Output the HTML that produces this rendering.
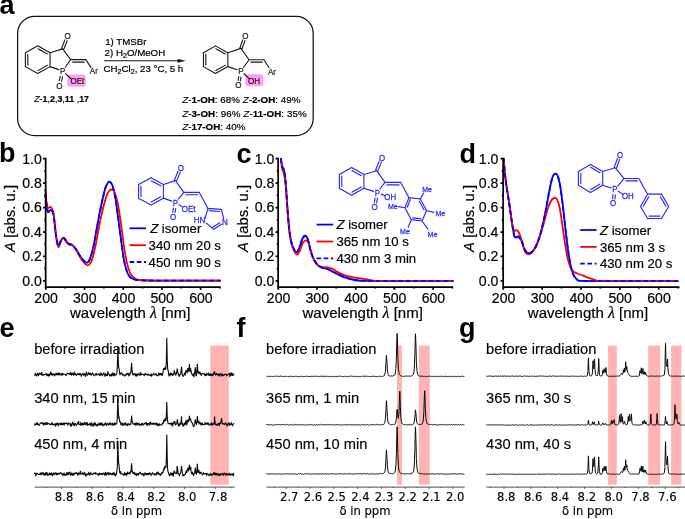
<!DOCTYPE html>
<html><head><meta charset="utf-8"><title>Figure</title><style>html,body{margin:0;padding:0;background:#fff}svg{display:block}</style></head><body>
<svg width="685" height="519" viewBox="0 0 685 519" font-family='"Liberation Sans", sans-serif' fill="#000">
<rect width="685" height="519" fill="#fff"/>
<style>text{stroke-linejoin:round}</style>
<text x="-0.6" y="14.4" font-size="27" font-weight="bold">a</text>
<rect x="17.6" y="16.4" width="295.6" height="119.2" rx="17" ry="17" fill="none" stroke="#111" stroke-width="1.25"/>
<g transform="translate(18,25) scale(0.15411)" fill="#1a1a1a" stroke="#1a1a1a" stroke-width="1.58" font-size="52" text-anchor="middle"><rect x="320" y="322" width="120" height="78" rx="19" fill="#ff9df2" stroke="none"/><path d="M48 180L128 135M128 135L208 180M208 180L208 270M208 270L128 315M128 315L48 270M48 270L48 180M129.95 154L190.75 188.2M190.75 261.8L129.95 296M63.6 259.2L63.6 190.8M208 180L290 155M290 155L342 225M342 225L306.89 274.28M208 270L265.2 289.53M297.28 157.81L318.8 101.98M282.72 152.19L304.24 96.36M342 225L440 225M354.74 240.6L430.2 240.6M440 225L473.36 275.04M273.78 333.08L267.04 361.87M288.97 336.64L282.23 365.42M308.97 316.08L344.99 350.43" fill="none" stroke="#1a1a1a" stroke-width="7.2" stroke-linecap="round" stroke-linejoin="round"/><text x="322" y="93.06" textLength="40.46" lengthAdjust="spacingAndGlyphs" font-size="58.76">O</text><text x="290" y="319.06" textLength="34.68" lengthAdjust="spacingAndGlyphs" font-size="58.76">P</text><text x="268" y="413.06" textLength="40.46" lengthAdjust="spacingAndGlyphs" font-size="58.76">O</text><text x="385" y="383.06" textLength="89.6" lengthAdjust="spacingAndGlyphs" font-size="58.76">OEt</text><text x="492" y="321.06" textLength="52" lengthAdjust="spacingAndGlyphs" font-size="58.76">Ar</text></g>
<g transform="translate(195,25) scale(0.14599)" fill="#1a1a1a" stroke="#1a1a1a" stroke-width="1.67" font-size="55" text-anchor="middle"><rect x="345" y="338" width="123" height="82" rx="21" fill="#ff9df2" stroke="none"/><path d="M58 190L140 143M140 143L225 190M225 190L225 285M225 285L140 332M140 332L58 285M58 285L58 190M142.43 162.7L207.03 198.42M207.03 276.58L142.43 312.3M74.07 273.6L74.07 201.4M225 190L315 160M315 160L370 238M370 238L332.9 289.94M225 285L288.7 306.23M322.58 162.67L342.32 106.72M307.42 157.33L327.17 101.37M370 238L472 238M383.26 254.07L461.8 254.07M472 238L507.63 293.12M299.8 352.9L294.72 380.25M315.59 355.83L310.52 383.18M335.17 334.02L371 367.82" fill="none" stroke="#1a1a1a" stroke-width="7.6" stroke-linecap="round" stroke-linejoin="round"/><text x="345" y="97.28" textLength="42.79" lengthAdjust="spacingAndGlyphs" font-size="62.15">O</text><text x="315" y="337.27" textLength="36.69" lengthAdjust="spacingAndGlyphs" font-size="62.15">P</text><text x="297" y="434.27" textLength="42.79" lengthAdjust="spacingAndGlyphs" font-size="62.15">O</text><text x="405" y="402.27" textLength="82.5" lengthAdjust="spacingAndGlyphs" font-size="62.15">OH</text><text x="527" y="342.27" textLength="55" lengthAdjust="spacingAndGlyphs" font-size="62.15">Ar</text></g>
<g font-size="9.7" stroke="#000" stroke-width="0.22">
<text x="105.2" y="45.2">1) TMSBr</text>
<text x="104.6" y="55.7">2) H<tspan font-size="7.2" dy="2">2</tspan><tspan dy="-2">O/MeOH</tspan></text>
<text x="103.5" y="72.2">CH<tspan font-size="7.2" dy="2">2</tspan><tspan dy="-2">Cl</tspan><tspan font-size="7.2" dy="2">2</tspan><tspan dy="-2">, 23 °C, 5 h</tspan></text>
</g>
<path d="M104.1 60.8H180" stroke="#111" stroke-width="1.05" fill="none"/>
<path d="M185.8 60.8L177.6 58.9L177.6 62.7Z" fill="#111"/>
<g font-size="8.9" stroke="#000" stroke-width="0.2">
<text x="34.2" y="102.1"><tspan font-style="italic">Z</tspan>-<tspan font-weight="bold">1</tspan>,<tspan font-weight="bold">2</tspan>,<tspan font-weight="bold">3</tspan>,<tspan font-weight="bold">11</tspan> ,<tspan font-weight="bold">17</tspan></text>
</g>
<g font-size="9.8" stroke="#000" stroke-width="0.2">
<text x="182.2" y="102.7"><tspan font-style="italic">Z</tspan>-<tspan font-weight="bold">1-OH</tspan>: 68% <tspan font-style="italic">Z</tspan>-<tspan font-weight="bold">2-OH</tspan>: 49%</text>
<text x="182.2" y="117.4" letter-spacing="0.06"><tspan font-style="italic">Z</tspan>-<tspan font-weight="bold">3-OH</tspan>: 96% <tspan font-style="italic">Z</tspan>-<tspan font-weight="bold">11-OH</tspan>: 35%</text>
<text x="182.2" y="130.3"><tspan font-style="italic">Z</tspan>-<tspan font-weight="bold">17-OH</tspan>: 40%</text>
</g>
<text x="-1" y="161.7" font-size="27" font-weight="bold">b</text>
<path d="M45.39 194.47C45.62 196.5 46.29 203.68 46.74 206.6C47.19 209.52 47.41 211.46 48.09 211.99C48.76 212.53 49.88 209.39 50.78 209.84C51.68 210.29 52.58 210.29 53.48 214.69C54.38 219.09 55.36 231.09 56.17 236.25C56.98 241.42 57.52 245.01 58.33 245.69C59.14 246.36 60.13 241.6 61.02 240.3C61.92 238.99 62.73 237.56 63.72 237.87C64.71 238.19 65.97 241.11 66.95 242.18C67.94 243.26 68.75 243.89 69.65 244.34C70.55 244.79 71.22 243.98 72.35 244.88C73.47 245.78 75.04 247.8 76.39 249.73C77.74 251.66 79.08 254.54 80.43 256.47C81.78 258.4 83.35 260.29 84.47 261.32C85.6 262.35 86.27 263.03 87.17 262.67C88.07 262.31 88.74 262.22 89.87 259.16C90.99 256.11 92.34 251.75 93.91 244.34C95.48 236.93 97.5 223.67 99.3 214.69C101.1 205.71 103.34 195.6 104.69 190.43C106.04 185.27 106.58 185.13 107.39 183.69C108.19 182.26 108.73 181.58 109.54 181.81C110.35 182.03 111.25 182.26 112.24 185.04C113.23 187.83 114.26 191.33 115.47 198.52C116.68 205.71 118.17 218.28 119.51 228.17C120.86 238.05 122.35 250.63 123.56 257.82C124.77 265 125.67 268.06 126.79 271.29C127.92 274.53 129.04 275.88 130.3 277.22C131.55 278.57 132.77 278.9 134.34 279.38C135.91 279.86 136.59 279.89 139.73 280.08C142.88 280.27 139.73 280.46 153.21 280.54C166.68 280.62 209.36 280.54 220.59 280.54" fill="none" stroke="#0000ff" stroke-width="1.8" stroke-linejoin="round"/>
<path d="M45.39 189.08C45.62 191.55 46.29 200.76 46.74 203.91C47.19 207.05 47.41 207.41 48.09 207.95C48.76 208.49 49.88 206.24 50.78 207.14C51.68 208.04 52.58 208.27 53.48 213.34C54.38 218.42 55.36 231.99 56.17 237.6C56.98 243.22 57.52 246.45 58.33 247.04C59.14 247.62 60.13 242.54 61.02 241.11C61.92 239.67 62.73 238.1 63.72 238.41C64.71 238.72 65.97 241.96 66.95 242.99C67.94 244.03 68.75 244.25 69.65 244.61C70.55 244.97 71.22 244.16 72.35 245.15C73.47 246.14 75.04 248.43 76.39 250.54C77.74 252.65 79.08 255.71 80.43 257.82C81.78 259.93 83.26 261.95 84.47 263.21C85.69 264.47 86.59 265.59 87.71 265.36C88.83 265.14 89.96 264.91 91.21 261.86C92.47 258.81 93.68 254.22 95.26 247.04C96.83 239.85 98.85 227.04 100.65 218.73C102.44 210.42 104.56 201.89 106.04 197.17C107.52 192.45 108.6 191.69 109.54 190.43C110.49 189.17 110.89 189.4 111.7 189.62C112.51 189.85 113.41 189.62 114.39 191.78C115.38 193.94 116.55 197.39 117.63 202.56C118.71 207.73 119.65 214.47 120.86 222.78C122.08 231.09 123.65 244.79 124.91 252.43C126.16 260.06 127.29 264.78 128.41 268.6C129.53 272.42 130.43 273.63 131.64 275.34C132.86 277.04 134.34 278.05 135.69 278.84C137.04 279.63 136.81 279.8 139.73 280.08C142.65 280.36 139.73 280.46 153.21 280.54C166.68 280.62 209.36 280.54 220.59 280.54" fill="none" stroke="#ff0000" stroke-width="1.8" stroke-linejoin="round"/>
<path d="M45.39 194.47C45.62 196.5 46.29 203.68 46.74 206.6C47.19 209.52 47.41 211.46 48.09 211.99C48.76 212.53 49.88 209.39 50.78 209.84C51.68 210.29 52.58 210.29 53.48 214.69C54.38 219.09 55.36 231.09 56.17 236.25C56.98 241.42 57.52 245.01 58.33 245.69C59.14 246.36 60.13 241.6 61.02 240.3C61.92 238.99 62.73 237.56 63.72 237.87C64.71 238.19 65.97 241.11 66.95 242.18C67.94 243.26 68.75 243.89 69.65 244.34C70.55 244.79 71.22 243.98 72.35 244.88C73.47 245.78 75.04 247.8 76.39 249.73C77.74 251.66 79.08 254.54 80.43 256.47C81.78 258.4 83.35 260.29 84.47 261.32C85.6 262.35 86.27 263.03 87.17 262.67C88.07 262.31 88.74 262.22 89.87 259.16C90.99 256.11 92.34 251.75 93.91 244.34C95.48 236.93 97.5 223.67 99.3 214.69C101.1 205.71 103.34 195.6 104.69 190.43C106.04 185.27 106.58 185.13 107.39 183.69C108.19 182.26 108.73 181.58 109.54 181.81C110.35 182.03 111.25 182.26 112.24 185.04C113.23 187.83 114.26 191.33 115.47 198.52C116.68 205.71 118.17 218.28 119.51 228.17C120.86 238.05 122.35 250.63 123.56 257.82C124.77 265 125.67 268.06 126.79 271.29C127.92 274.53 129.04 275.88 130.3 277.22C131.55 278.57 132.77 278.9 134.34 279.38C135.91 279.86 136.59 279.89 139.73 280.08C142.88 280.27 139.73 280.46 153.21 280.54C166.68 280.62 209.36 280.54 220.59 280.54" fill="none" stroke="#0000ff" stroke-width="1.8" stroke-dasharray="4.7 2.8" stroke-linejoin="round"/>
<path d="M45.65 157.85V287.2H220.7M45.65 280.9h-2.6M45.65 268.68h-1.4M45.65 256.46h-2.6M45.65 244.24h-1.4M45.65 232.02h-2.6M45.65 219.8h-1.4M45.65 207.58h-2.6M45.65 195.36h-1.4M45.65 183.14h-2.6M45.65 170.92h-1.4M45.65 158.7h-2.6M45.8 287.2v2.6M65.15 287.2v1.4M84.5 287.2v2.6M103.85 287.2v1.4M123.2 287.2v2.6M142.55 287.2v1.4M161.9 287.2v2.6M181.25 287.2v1.4M200.6 287.2v2.6M219.95 287.2v1.4" fill="none" stroke="#000" stroke-width="1.75"/>
<g font-size="14.1" stroke="#000" stroke-width="0.2">
<text x="41.75" y="285.8" text-anchor="end">0.0</text>
<text x="41.75" y="261.36" text-anchor="end">0.2</text>
<text x="41.75" y="236.92" text-anchor="end">0.4</text>
<text x="41.75" y="212.48" text-anchor="end">0.6</text>
<text x="41.75" y="188.04" text-anchor="end">0.8</text>
<text x="41.75" y="163.6" text-anchor="end">1.0</text>
<text x="46.1" y="302.8" text-anchor="middle">200</text>
<text x="84.8" y="302.8" text-anchor="middle">300</text>
<text x="123.5" y="302.8" text-anchor="middle">400</text>
<text x="162.2" y="302.8" text-anchor="middle">500</text>
<text x="200.9" y="302.8" text-anchor="middle">600</text>
</g>
<text x="130.2" y="317.6" font-size="15" stroke="#000" stroke-width="0.2" text-anchor="middle">wavelength <tspan font-style="italic" font-family="'Liberation Serif', serif" font-size="16">λ</tspan> [nm]</text>
<text transform="translate(14.65,218.4) rotate(-90)" font-size="14.9" stroke="#000" stroke-width="0.2" text-anchor="middle"><tspan font-style="italic">A</tspan> [abs. u.]</text>
<path d="M129.6 228.3H146" stroke="#0000ff" stroke-width="1.8"/>
<text x="148.6" y="232.9" font-size="13.15" stroke="#000" stroke-width="0.2"><tspan font-style="italic" dx="1.6">Z</tspan> isomer</text>
<path d="M129.6 245.2H146" stroke="#ff0000" stroke-width="1.8"/>
<text x="148.6" y="249.8" font-size="13.15" stroke="#000" stroke-width="0.2">340 nm 20 s</text>
<path d="M129.6 262H146" stroke="#0000ff" stroke-width="1.8" stroke-dasharray="4.6 2.6"/>
<text x="148.6" y="266.6" font-size="13.15" stroke="#000" stroke-width="0.2">450 nm 90 s</text>
<text x="236.5" y="163" font-size="27" font-weight="bold">c</text>
<path d="M280.79 158.09C281.01 159.44 281.6 164.16 282.14 166.18C282.68 168.2 283.44 167.53 284.02 170.23C284.61 172.92 285.06 175.85 285.64 182.36C286.23 188.88 286.9 201.24 287.53 209.33C288.16 217.42 288.74 225.29 289.42 230.91C290.09 236.52 290.77 239.9 291.57 243.04C292.38 246.19 293.46 248.21 294.27 249.78C295.08 251.36 295.62 252.71 296.43 252.48C297.24 252.26 298.14 250.68 299.13 248.44C300.12 246.19 301.37 241.11 302.36 239C303.35 236.88 304.16 235.76 305.06 235.76C305.96 235.76 306.86 236.66 307.76 239C308.66 241.33 309.55 246.64 310.45 249.78C311.35 252.93 312.03 255.4 313.15 257.87C314.27 260.35 315.85 263.04 317.2 264.62C318.54 266.19 319.67 266.64 321.24 267.31C322.81 267.99 324.84 267.99 326.63 268.66C328.43 269.34 330.23 270.46 332.03 271.36C333.83 272.26 335.17 273.02 337.42 274.06C339.67 275.09 342.37 276.53 345.51 277.56C348.66 278.6 351.81 279.69 356.3 280.26C360.79 280.83 366.86 280.83 372.48 280.96C378.1 281.09 376.53 281.05 390.01 281.07C403.5 281.09 442.82 281.07 453.39 281.07" fill="none" stroke="#0000ff" stroke-width="1.8" stroke-linejoin="round"/>
<path d="M280.79 158.09C281.01 159.89 281.6 166.18 282.14 168.88C282.68 171.57 283.44 171.57 284.02 174.27C284.61 176.97 285.06 178.99 285.64 185.06C286.23 191.13 286.9 202.81 287.53 210.68C288.16 218.55 288.74 226.64 289.42 232.25C290.09 237.87 290.77 241.24 291.57 244.39C292.38 247.54 293.37 249.42 294.27 251.13C295.17 252.84 296.07 254.64 296.97 254.64C297.87 254.64 298.68 253.07 299.67 251.13C300.65 249.2 301.82 244.84 302.9 243.04C303.98 241.24 305.15 240.21 306.14 240.35C307.13 240.48 308.03 241.83 308.83 243.85C309.64 245.87 310.18 249.92 310.99 252.48C311.8 255.04 312.66 257.2 313.69 259.22C314.72 261.25 315.94 263.36 317.2 264.62C318.45 265.88 319.67 266.33 321.24 266.77C322.81 267.22 324.84 267 326.63 267.31C328.43 267.63 330.23 267.9 332.03 268.66C333.83 269.43 335.17 270.73 337.42 271.9C339.67 273.07 342.37 274.69 345.51 275.67C348.66 276.66 353.15 277.29 356.3 277.83C359.45 278.37 361.69 278.48 364.39 278.91C367.09 279.34 369.78 280.05 372.48 280.39C375.18 280.74 367.09 280.85 380.57 280.96C394.06 281.07 441.25 281.05 453.39 281.07" fill="none" stroke="#ff0000" stroke-width="1.8" stroke-linejoin="round"/>
<path d="M280.79 158.09C281.01 159.44 281.6 164.16 282.14 166.18C282.68 168.2 283.44 167.53 284.02 170.23C284.61 172.92 285.06 175.85 285.64 182.36C286.23 188.88 286.9 201.24 287.53 209.33C288.16 217.42 288.74 225.29 289.42 230.91C290.09 236.52 290.77 239.9 291.57 243.04C292.38 246.19 293.46 248.21 294.27 249.78C295.08 251.36 295.62 252.71 296.43 252.48C297.24 252.26 298.14 250.68 299.13 248.44C300.12 246.19 301.37 241.11 302.36 239C303.35 236.88 304.16 235.76 305.06 235.76C305.96 235.76 306.86 236.66 307.76 239C308.66 241.33 309.55 246.64 310.45 249.78C311.35 252.93 312.03 255.4 313.15 257.87C314.27 260.35 315.85 263.04 317.2 264.62C318.54 266.19 319.67 266.64 321.24 267.31C322.81 267.99 324.84 267.99 326.63 268.66C328.43 269.34 330.23 270.46 332.03 271.36C333.83 272.26 335.17 273.02 337.42 274.06C339.67 275.09 342.37 276.53 345.51 277.56C348.66 278.6 351.81 279.69 356.3 280.26C360.79 280.83 366.86 280.83 372.48 280.96C378.1 281.09 376.53 281.05 390.01 281.07C403.5 281.09 442.82 281.07 453.39 281.07" fill="none" stroke="#0000ff" stroke-width="1.8" stroke-dasharray="4.7 2.8" stroke-linejoin="round"/>
<path d="M278.15 157.85V287.2H453M278.15 280.9h-2.6M278.15 268.68h-1.4M278.15 256.46h-2.6M278.15 244.24h-1.4M278.15 232.02h-2.6M278.15 219.8h-1.4M278.15 207.58h-2.6M278.15 195.36h-1.4M278.15 183.14h-2.6M278.15 170.92h-1.4M278.15 158.7h-2.6M278.3 287.2v2.6M297.65 287.2v1.4M317 287.2v2.6M336.35 287.2v1.4M355.7 287.2v2.6M375.05 287.2v1.4M394.4 287.2v2.6M413.75 287.2v1.4M433.1 287.2v2.6M452.45 287.2v1.4" fill="none" stroke="#000" stroke-width="1.75"/>
<g font-size="14.1" stroke="#000" stroke-width="0.2">
<text x="274.25" y="285.8" text-anchor="end">0.0</text>
<text x="274.25" y="261.36" text-anchor="end">0.2</text>
<text x="274.25" y="236.92" text-anchor="end">0.4</text>
<text x="274.25" y="212.48" text-anchor="end">0.6</text>
<text x="274.25" y="188.04" text-anchor="end">0.8</text>
<text x="274.25" y="163.6" text-anchor="end">1.0</text>
<text x="278.6" y="302.8" text-anchor="middle">200</text>
<text x="317.3" y="302.8" text-anchor="middle">300</text>
<text x="356" y="302.8" text-anchor="middle">400</text>
<text x="394.7" y="302.8" text-anchor="middle">500</text>
<text x="433.4" y="302.8" text-anchor="middle">600</text>
</g>
<text x="362.7" y="317.6" font-size="15" stroke="#000" stroke-width="0.2" text-anchor="middle">wavelength <tspan font-style="italic" font-family="'Liberation Serif', serif" font-size="16">λ</tspan> [nm]</text>
<text transform="translate(248.45,218.4) rotate(-90)" font-size="14.9" stroke="#000" stroke-width="0.2" text-anchor="middle"><tspan font-style="italic">A</tspan> [abs. u.]</text>
<path d="M316.5 224.6H333.2" stroke="#0000ff" stroke-width="1.8"/>
<text x="336.5" y="229.2" font-size="13.15" stroke="#000" stroke-width="0.2"><tspan font-style="italic">Z</tspan> isomer</text>
<path d="M316.5 241.5H333.2" stroke="#ff0000" stroke-width="1.8"/>
<text x="336.5" y="246.1" font-size="13.15" stroke="#000" stroke-width="0.2">365 nm 10 s</text>
<path d="M316.5 258.3H333.2" stroke="#0000ff" stroke-width="1.8" stroke-dasharray="4.6 2.6"/>
<text x="336.5" y="262.9" font-size="13.15" stroke="#000" stroke-width="0.2">430 nm 3 min</text>
<text x="459.4" y="163.2" font-size="27" font-weight="bold">d</text>
<path d="M503.63 158.09C503.81 160.34 504.26 167.08 504.71 171.57C505.16 176.07 505.7 180.56 506.33 185.06C506.96 189.55 507.77 193.82 508.48 198.54C509.2 203.26 509.92 208.43 510.64 213.38C511.36 218.32 512.17 224.39 512.8 228.21C513.43 232.03 513.88 234.73 514.42 236.3C514.96 237.87 515.41 237.65 516.04 237.65C516.66 237.65 517.47 236.08 518.19 236.3C518.91 236.52 519.72 238.1 520.35 239C520.98 239.9 521.34 240.12 521.97 241.69C522.6 243.27 523.32 246.64 524.13 248.44C524.94 250.23 525.92 251.72 526.82 252.48C527.72 253.25 528.53 253.25 529.52 253.02C530.51 252.8 531.54 252.57 532.76 251.13C533.97 249.69 535.45 247.54 536.8 244.39C538.15 241.24 539.5 237.2 540.85 232.25C542.2 227.31 543.54 221.24 544.89 214.72C546.24 208.21 547.72 199.22 548.94 193.15C550.15 187.08 551.18 181.55 552.17 178.32C553.16 175.08 553.97 174.18 554.87 173.73C555.77 173.28 556.67 173.51 557.57 175.62C558.47 177.73 559.37 181.24 560.26 186.41C561.16 191.58 562.06 199.22 562.96 206.63C563.86 214.05 564.76 223.27 565.66 230.91C566.56 238.55 567.46 246.41 568.35 252.48C569.25 258.55 570.15 263.49 571.05 267.31C571.95 271.13 572.71 273.34 573.75 275.4C574.78 277.47 575.77 278.79 577.25 279.72C578.74 280.65 576.36 280.74 582.65 280.96C588.94 281.18 599.05 281.05 615.01 281.07C630.97 281.09 667.82 281.07 678.39 281.07" fill="none" stroke="#0000ff" stroke-width="1.8" stroke-linejoin="round"/>
<path d="M503.63 158.09C503.81 160.34 504.26 167.08 504.71 171.57C505.16 176.07 505.7 180.56 506.33 185.06C506.96 189.55 507.77 193.82 508.48 198.54C509.2 203.26 509.92 208.66 510.64 213.38C511.36 218.1 512.17 223.94 512.8 226.86C513.43 229.78 513.79 230.37 514.42 230.91C515.05 231.45 515.86 229.87 516.57 230.1C517.29 230.32 518.01 231 518.73 232.25C519.45 233.51 520.17 235.4 520.89 237.65C521.61 239.9 522.33 243.36 523.05 245.74C523.77 248.12 524.4 250.5 525.2 251.94C526.01 253.38 526.87 254.19 527.9 254.37C528.94 254.55 530.15 254.14 531.41 253.02C532.67 251.9 534.1 250.19 535.45 247.63C536.8 245.06 538.15 241.56 539.5 237.65C540.85 233.74 542.2 228.88 543.54 224.16C544.89 219.44 546.33 213.24 547.59 209.33C548.85 205.42 549.97 202.59 551.09 200.7C552.22 198.81 553.34 198.23 554.33 198C555.32 197.78 556.13 197.69 557.03 199.35C557.93 201.02 558.83 203.62 559.72 207.98C560.62 212.34 561.52 219.44 562.42 225.51C563.32 231.58 564.22 238.77 565.12 244.39C566.02 250.01 566.92 255.4 567.82 259.22C568.71 263.04 569.61 265.29 570.51 267.31C571.41 269.34 572.09 270.33 573.21 271.36C574.33 272.39 575.68 272.84 577.25 273.52C578.83 274.19 580.63 274.64 582.65 275.4C584.67 276.17 587.14 277.27 589.39 278.1C591.64 278.93 593.89 279.92 596.13 280.39C598.38 280.87 589.17 280.85 602.87 280.96C616.58 281.07 665.8 281.05 678.39 281.07" fill="none" stroke="#ff0000" stroke-width="1.8" stroke-linejoin="round"/>
<path d="M503.63 158.09C503.81 160.34 504.26 167.08 504.71 171.57C505.16 176.07 505.7 180.56 506.33 185.06C506.96 189.55 507.77 193.82 508.48 198.54C509.2 203.26 509.92 208.43 510.64 213.38C511.36 218.32 512.17 224.39 512.8 228.21C513.43 232.03 513.88 234.73 514.42 236.3C514.96 237.87 515.41 237.65 516.04 237.65C516.66 237.65 517.47 236.08 518.19 236.3C518.91 236.52 519.72 238.1 520.35 239C520.98 239.9 521.34 240.12 521.97 241.69C522.6 243.27 523.32 246.64 524.13 248.44C524.94 250.23 525.92 251.72 526.82 252.48C527.72 253.25 528.53 253.25 529.52 253.02C530.51 252.8 531.54 252.57 532.76 251.13C533.97 249.69 535.45 247.54 536.8 244.39C538.15 241.24 539.5 237.2 540.85 232.25C542.2 227.31 543.54 221.24 544.89 214.72C546.24 208.21 547.72 199.22 548.94 193.15C550.15 187.08 551.18 181.55 552.17 178.32C553.16 175.08 553.97 174.18 554.87 173.73C555.77 173.28 556.67 173.51 557.57 175.62C558.47 177.73 559.37 181.24 560.26 186.41C561.16 191.58 562.06 199.22 562.96 206.63C563.86 214.05 564.76 223.27 565.66 230.91C566.56 238.55 567.46 246.41 568.35 252.48C569.25 258.55 570.15 263.49 571.05 267.31C571.95 271.13 572.71 273.34 573.75 275.4C574.78 277.47 575.77 278.79 577.25 279.72C578.74 280.65 576.36 280.74 582.65 280.96C588.94 281.18 599.05 281.05 615.01 281.07C630.97 281.09 667.82 281.07 678.39 281.07" fill="none" stroke="#0000ff" stroke-width="1.8" stroke-dasharray="4.7 2.8" stroke-linejoin="round"/>
<path d="M503.15 157.85V287.2H679.5M503.15 280.9h-2.6M503.15 268.68h-1.4M503.15 256.46h-2.6M503.15 244.24h-1.4M503.15 232.02h-2.6M503.15 219.8h-1.4M503.15 207.58h-2.6M503.15 195.36h-1.4M503.15 183.14h-2.6M503.15 170.92h-1.4M503.15 158.7h-2.6M503.3 287.2v2.6M522.73 287.2v1.4M542.15 287.2v2.6M561.58 287.2v1.4M581 287.2v2.6M600.42 287.2v1.4M619.85 287.2v2.6M639.27 287.2v1.4M658.7 287.2v2.6M678.12 287.2v1.4" fill="none" stroke="#000" stroke-width="1.75"/>
<g font-size="14.1" stroke="#000" stroke-width="0.2">
<text x="498.45" y="285.8" text-anchor="end">0.0</text>
<text x="498.45" y="261.36" text-anchor="end">0.2</text>
<text x="498.45" y="236.92" text-anchor="end">0.4</text>
<text x="498.45" y="212.48" text-anchor="end">0.6</text>
<text x="498.45" y="188.04" text-anchor="end">0.8</text>
<text x="498.45" y="163.6" text-anchor="end">1.0</text>
<text x="503.6" y="302.8" text-anchor="middle">200</text>
<text x="542.45" y="302.8" text-anchor="middle">300</text>
<text x="581.3" y="302.8" text-anchor="middle">400</text>
<text x="620.15" y="302.8" text-anchor="middle">500</text>
<text x="659" y="302.8" text-anchor="middle">600</text>
</g>
<text x="588.03" y="317.6" font-size="15" stroke="#000" stroke-width="0.2" text-anchor="middle">wavelength <tspan font-style="italic" font-family="'Liberation Serif', serif" font-size="16">λ</tspan> [nm]</text>
<text transform="translate(473.55,218.4) rotate(-90)" font-size="14.9" stroke="#000" stroke-width="0.2" text-anchor="middle"><tspan font-style="italic">A</tspan> [abs. u.]</text>
<path d="M580.2 230H596.6" stroke="#0000ff" stroke-width="1.8"/>
<text x="600" y="234.6" font-size="13.15" stroke="#000" stroke-width="0.2"><tspan font-style="italic">Z</tspan> isomer</text>
<path d="M580.2 246.9H596.6" stroke="#ff0000" stroke-width="1.8"/>
<text x="600" y="251.5" font-size="13.15" stroke="#000" stroke-width="0.2">365 nm 3 s</text>
<path d="M580.2 263.7H596.6" stroke="#0000ff" stroke-width="1.8" stroke-dasharray="4.6 2.6"/>
<text x="600" y="268.3" font-size="13.15" stroke="#000" stroke-width="0.2">430 nm 20 s</text>
<g transform="translate(132,158) scale(0.14599)" fill="#2626ff" stroke="#2626ff" stroke-width="1.72" font-size="55" text-anchor="middle"><path d="M45 182L130 135M130 135L215 182M215 182L215 275M215 275L130 322M130 322L45 275M45 275L45 182M132.21 155.09L196.81 190.81M196.81 266.19L132.21 301.91M61.51 263.84L61.51 193.16M215 182L298 155M298 155L355 235M355 235L317.45 281.12M215 275L271.93 295.58M305.64 158.14L330.92 96.63M290.36 151.86L315.65 90.35M355 235L460 235M368.65 251.51L449.5 251.51M460 235L520 345M283.4 343.19L278.81 371.27M299.7 345.85L295.11 373.93M321.44 319.8L345.37 334.91" fill="none" stroke="#2626ff" stroke-width="7.8" stroke-linecap="round" stroke-linejoin="round"/><text x="335" y="87.28" textLength="42.79" lengthAdjust="spacingAndGlyphs" font-size="62.15">O</text><text x="298" y="327.27" textLength="36.69" lengthAdjust="spacingAndGlyphs" font-size="62.15">P</text><text x="282" y="425.27" textLength="42.79" lengthAdjust="spacingAndGlyphs" font-size="62.15">O</text><text x="388" y="367.27" textLength="94.77" lengthAdjust="spacingAndGlyphs" font-size="62.15">OEt</text><path d="M520 345L612 352M612 352L628.43 414.84M613.1 454.02L560 488M560 488L508.95 446.37M500.89 413.8L520 345M528.06 360.66L601.66 366.26M601.65 443.54L555.28 473.21" fill="none" stroke="#2626ff" stroke-width="7.8" stroke-linecap="round"/><text x="637" y="461" font-size="62" textLength="39.7" lengthAdjust="spacingAndGlyphs">N</text><text x="462" y="447" font-size="62" textLength="79.4" lengthAdjust="spacingAndGlyphs">HN</text></g>
<g transform="translate(335,150) scale(0.17519)" fill="#2626ff" stroke="#2626ff" stroke-width="1.43" font-size="45" text-anchor="middle"><path d="M25 140L95 100M95 100L165 140M165 140L165 218M165 218L95 258M95 258L25 218M25 218L25 140M96.6 116.7L149.8 147.1M149.8 210.9L96.6 241.3M38.71 208.64L38.71 149.36M165 140L238 118M238 118L285 185M285 185L257.01 222.76M165 218L220.43 236M244.37 120.52L265.12 67.96M231.63 115.48L252.37 62.92M285 185L375 185M296.7 198.71L366 198.71M375 185L422 272M229 273.84L224.1 298.95M242.45 276.47L237.55 301.58M262.9 251.81L285.63 261.38" fill="none" stroke="#2626ff" stroke-width="6.5" stroke-linecap="round" stroke-linejoin="round"/><text x="268" y="60.23" textLength="35.01" lengthAdjust="spacingAndGlyphs" font-size="50.85">O</text><text x="242" y="261.23" textLength="30.02" lengthAdjust="spacingAndGlyphs" font-size="50.85">P</text><text x="226" y="343.23" textLength="35.01" lengthAdjust="spacingAndGlyphs" font-size="50.85">O</text><text x="315" y="286.23" textLength="67.5" lengthAdjust="spacingAndGlyphs" font-size="50.85">OH</text><path d="M422.44 271.99L487.11 279.69M487.11 279.69L522.53 345.13M522.53 345.13L497.12 405.18M497.12 405.18L435.53 397.48M435.53 397.48L399.34 329.73M399.34 329.73L422.44 271.99M412.33 326.89L429.88 283M481.69 292.78L508.6 342.51M491.09 393.34L444.28 387.49M487.11 279.69L504.82 246.58M522.53 345.13L564.1 355.91M497.12 405.18L530.23 451.37M435.53 397.48L417.82 441.37M399.34 329.73L362.39 323.57" fill="none" stroke="#2626ff" stroke-width="6.5" stroke-linecap="round"/><text x="525.61" y="242.1" font-size="44" textLength="55.6" lengthAdjust="spacingAndGlyphs">Me</text><text x="601.06" y="374.53" font-size="44" textLength="55.6" lengthAdjust="spacingAndGlyphs">Me</text><text x="556.4" y="496.17" font-size="44" textLength="55.6" lengthAdjust="spacingAndGlyphs">Me</text><text x="399.34" y="478.46" font-size="44" textLength="55.6" lengthAdjust="spacingAndGlyphs">Me</text><text x="330.05" y="336.03" font-size="44" textLength="55.6" lengthAdjust="spacingAndGlyphs">Me</text></g>
<g transform="translate(570,148) scale(0.16787)" fill="#2626ff" stroke="#2626ff" stroke-width="1.5" font-size="47" text-anchor="middle"><path d="M50 140L122 98M122 98L195 140M195 140L195 222M195 222L122 265M122 265L50 222M50 222L50 140M123.69 115.32L179.17 147.24M179.05 214.95L123.57 247.63M64.17 212.16L64.17 149.84M195 140L270 118M270 118L322 182M322 182L285.13 225.02M195 222L245.41 237.88M276.67 120.39L295.78 67.17M263.33 115.61L282.44 62.38M322 182L410 182M333.44 196.17L401.2 196.17M410 182L462 275M256.48 277.99L253.43 300.98M270.53 279.85L267.48 302.84M287.7 258.15L314.63 276.13" fill="none" stroke="#2626ff" stroke-width="6.8" stroke-linecap="round" stroke-linejoin="round"/><text x="298" y="59.03" textLength="36.57" lengthAdjust="spacingAndGlyphs" font-size="53.11">O</text><text x="268" y="264.04" textLength="31.35" lengthAdjust="spacingAndGlyphs" font-size="53.11">P</text><text x="257" y="347.04" textLength="36.57" lengthAdjust="spacingAndGlyphs" font-size="53.11">O</text><text x="345" y="304.04" textLength="70.5" lengthAdjust="spacingAndGlyphs" font-size="53.11">OH</text><path d="M462 275L545 275M545 275L588 348M588 348L545 420M545 420L462 420M462 420L420 348M420 348L462 275M437.17 346.22L469.09 290.74M538.1 290.87L570.78 346.35M535.04 406L471.96 406" fill="none" stroke="#2626ff" stroke-width="6.8" stroke-linecap="round"/></g>
<text x="-0.5" y="337.3" font-size="27" font-weight="bold">e</text>
<rect x="210.3" y="345.5" width="18.5" height="139.2" fill="#ffb3b3"/>
<text x="34.2" y="353.6" font-size="14.7" stroke="#000" stroke-width="0.15">before irradiation</text>
<text x="34.2" y="403" font-size="14.7" stroke="#000" stroke-width="0.15">340 nm, 15 min</text>
<text x="34.2" y="448.6" font-size="14.7" stroke="#000" stroke-width="0.15">450 nm, 4 min</text>
<path d="M34.5 487.1H234.7M46 487.1v1M61.4 487.1v1.7M76.8 487.1v1M92.2 487.1v1.7M107.6 487.1v1M123 487.1v1.7M138.4 487.1v1M153.8 487.1v1.7M169.2 487.1v1M184.6 487.1v1.7M200 487.1v1M215.4 487.1v1.7M230.8 487.1v1" stroke="#444" stroke-width="0.95" fill="none"/>
<g font-family="'DejaVu Sans', sans-serif" font-size="11.6" text-anchor="middle" stroke="#000" stroke-width="0.15">
<text x="64.1" y="500.9">8.8</text>
<text x="94.9" y="500.9">8.6</text>
<text x="125.7" y="500.9">8.4</text>
<text x="156.5" y="500.9">8.2</text>
<text x="187.3" y="500.9">8.0</text>
<text x="218.1" y="500.9">7.8</text>
<text x="136.5" y="514.9" font-size="11.6">δ in ppm</text>
</g>
<path d="M34.5 375.6 34.95 374.16 35.4 373.6 35.85 374.96 36.3 375.7 36.75 374.56 37.2 374.07 37.65 373.51 38.1 375.59 38.55 375.66 39 373.86 39.45 374.07 39.9 373.12 40.35 373.62 40.8 374.59 41.25 374.75 41.7 372.19 42.15 374.76 42.6 375.21 43.05 375.52 43.5 374.41 43.95 374.37 44.4 374.81 44.85 374.56 45.3 374.25 45.75 373.88 46.2 373.51 46.65 374.31 47.1 376.11 47.55 373.87 48 375.78 48.45 374.65 48.9 375.83 49.35 374.5 49.8 375.2 50.25 374.31 50.7 371.53 51.15 374.54 51.6 373.74 52.05 375.69 52.5 374.76 52.95 373.9 53.4 374.58 53.85 374.17 54.3 374.41 54.75 375.41 55.2 373.99 55.65 375.23 56.1 372.82 56.55 374.95 57 373.88 57.45 374.5 57.9 373.64 58.35 375.04 58.8 373.6 59.25 374.61 59.7 373.36 60.15 373.94 60.6 374.37 61.05 375.2 61.5 373.81 61.95 374.08 62.4 373.02 62.85 374.84 63.3 374 63.75 374.04 64.2 374.25 64.65 374.31 65.1 374.34 65.55 375.04 66 375.41 66.45 374.86 66.9 373.97 67.35 373.14 67.8 373.62 68.25 373.55 68.7 373.8 69.15 373.87 69.6 374.33 70.05 373.81 70.5 372.9 70.95 374.79 71.4 375.12 71.85 372.74 72.3 374.28 72.75 373.63 73.2 373.71 73.65 375.52 74.1 372.31 74.55 372.9 75 374.34 75.45 373.82 75.9 374.39 76.35 375.3 76.8 374.6 77.25 374.16 77.7 373.5 78.15 373.86 78.6 374.45 79.05 373.28 79.5 375.18 79.95 373.79 80.4 373.5 80.85 374.76 81.3 376.11 81.75 375.32 82.2 374.29 82.65 374.02 83.1 373.11 83.55 375.4 84 374.5 84.45 373.92 84.9 374.64 85.35 376.63 85.8 373.77 86.25 372.42 86.7 373.6 87.15 375.33 87.6 374.87 88.05 374.3 88.5 372.26 88.95 373.94 89.4 374.4 89.85 373.1 90.3 374.57 90.75 372.82 91.2 375.12 91.65 374.93 92.1 373.85 92.55 373.22 93 373.91 93.45 374.23 93.9 376.14 94.35 375.14 94.8 375.05 95.25 374.98 95.7 373.97 96.15 374.8 96.6 373.79 97.05 374.43 97.5 374.8 97.95 374.39 98.4 374.11 98.85 373.73 99.3 374.93 99.75 374.71 100.2 375.73 100.65 373.06 101.1 373.19 101.55 374.66 102 374.93 102.45 375.61 102.9 374.35 103.35 374.31 103.8 372.53 104.25 374.28 104.7 375.2 105.15 376.7 105.6 373.23 106.05 374.33 106.5 375.94 106.95 374.33 107.4 375.94 107.85 371.36 108.3 373.49 108.75 373.98 109.2 374.65 109.65 376.42 110.1 374.6 110.55 375.89 111 373.95 111.45 376.41 111.9 375.29 112.35 373.37 112.8 372.99 113.25 375.52 113.7 375.82 114.15 373.63 114.6 373.62 115.05 375.22 115.5 374.87 115.95 374.69 116.4 374.73 116.85 373.14 117.3 367.16 117.75 351.83 117.9 347.01 118.2 358.44 118.65 367.41 119 368.73 119.1 368.46 119.55 372.96 120 375.01 120.45 373.35 120.9 372.91 121.35 373.56 121.8 373.18 122.25 374.19 122.7 375.08 123.15 374.37 123.6 374.8 124.05 375.47 124.5 375.99 124.95 375.81 125.4 374.48 125.85 374.34 126.3 374.9 126.75 373.19 127.2 374.31 127.65 373.94 128.1 373.36 128.55 375.18 129 376.19 129.45 373.69 129.9 374.87 130.35 372.79 130.8 372.7 131.25 367.92 131.6 362.81 131.7 366.09 132.15 370.79 132.6 374.19 133.05 374.81 133.5 374.71 133.95 373.7 134.4 373.64 134.85 373.55 135.3 375.96 135.75 375.01 136.2 376.62 136.65 374.58 137.1 373.95 137.55 375.18 138 374.27 138.45 374.28 138.9 373.59 139.35 375.23 139.8 375.24 140.25 375.18 140.7 372.92 141.15 373.51 141.6 374.61 142.05 374.29 142.5 374.39 142.95 374.31 143.4 374.68 143.85 374.8 144.3 375.63 144.75 375.07 145.2 373.01 145.65 374.01 146.1 374.44 146.55 374.69 147 374.44 147.45 374.18 147.9 375.08 148.35 374.32 148.8 374.28 149.25 375.17 149.7 375.21 150.15 375.39 150.6 375.45 151.05 373.69 151.5 376.62 151.95 374.73 152.4 375.04 152.85 375.05 153.3 374.4 153.75 373.48 154.2 374.42 154.65 374.61 155.1 375.04 155.55 374.6 156 373.66 156.45 374.83 156.9 375.51 157.35 375.61 157.8 375.46 158.25 375.71 158.7 373.46 159.15 374.12 159.6 374.64 160.05 373.09 160.5 374.97 160.95 373.65 161.4 373.54 161.85 375.52 162.3 375.26 162.75 374.1 163.2 370.97 163.65 367.97 163.8 369.75 164.1 368.12 164.55 369.76 165 367.75 165.2 367.35 165.45 367.61 165.9 369.6 166.35 360.84 166.8 337.87 167.25 360.5 167.7 368.85 168.15 370.55 168.6 374.05 169.05 375.61 169.5 374.59 169.95 375.15 170.4 372.57 170.85 373.87 171.3 375.06 171.75 373.58 172.2 373.94 172.65 375.86 173.1 374.82 173.55 374.31 174 372.59 174.3 370.33 174.45 371.6 174.9 373.68 175.35 374.78 175.8 375.08 176.25 372.73 176.7 372.9 177.15 368.68 177.3 369.42 177.6 371.17 178.05 373 178.5 375.52 178.95 373.98 179.4 376.71 179.85 374.6 180.3 374.45 180.75 373.44 181.2 369.43 181.5 367.4 181.65 366.91 182.1 373.94 182.55 375.68 183 376.14 183.45 376.11 183.9 374.89 184.35 373.58 184.8 373.14 185.25 375.42 185.7 371.93 186.15 369.87 186.6 372.02 187.05 373.08 187.5 370.68 187.8 368.18 187.95 369.51 188.4 371.52 188.85 370.15 189.3 365.51 189.4 363.98 189.75 368.13 190.2 372.15 190.65 368.21 190.8 369.76 191.1 371.21 191.55 373.42 192 374.35 192.45 375.25 192.9 374.95 193.35 374.26 193.8 377.05 194.25 374.78 194.7 372.61 195.15 368.69 195.3 367.29 195.6 370.72 196.05 376.31 196.5 375.32 196.95 370.2 197.3 363.98 197.4 364.14 197.85 371.79 198.3 373.33 198.75 371.27 199.2 373.36 199.65 373.69 200.1 372.65 200.55 373.79 201 374.97 201.45 375.17 201.9 373.46 202.35 373.31 202.8 373.58 203.25 373.71 203.7 373.74 204.15 374.49 204.6 373.89 205.05 375.44 205.5 374.68 205.95 375.15 206.4 373.84 206.85 375.02 207.3 374.59 207.75 374.14 208.2 373.28 208.65 375.21 209.1 375.34 209.55 373.76 210 375.49 210.45 374.09 210.9 375.01 211.35 374.59 211.8 376.14 212.25 373.86 212.7 374.95 213.15 375.31 213.6 372.63 214.05 373.86 214.5 371.34 214.95 374.13 215.4 374.81 215.85 374.4 216.3 373.05 216.75 374.52 217.2 374.09 217.65 374.03 218.1 375.32 218.55 374.38 219 374.95 219.45 375.62 219.9 373.71 220.35 373.9 220.8 374.43 221.25 375.32 221.7 376.3 222.15 374.06 222.6 374.59 223.05 376.01 223.5 374.55 223.95 375.87 224.4 374.52 224.85 374.37 225.3 374.18 225.75 374.3 226.2 374.35 226.65 375.53 227.1 374.84 227.55 374.96 228 374.71 228.45 374.26 228.9 373.94 229.35 373.03 229.8 376.81 230.25 374.14 230.7 374.68 231.15 372.45 231.6 373.66 232.05 375.99 232.5 374.14 232.95 374.97 233.4 373.61 233.85 375.45" fill="none" stroke="#0a0a0a" stroke-width="1.1" stroke-linejoin="miter" stroke-miterlimit="3"/>
<path d="M34.5 425.5 34.95 423.99 35.4 424.45 35.85 424.63 36.3 423.33 36.75 424.14 37.2 424.45 37.65 422.58 38.1 424.65 38.55 425.34 39 425.44 39.45 424.67 39.9 423.61 40.35 423.43 40.8 423.17 41.25 422.53 41.7 422.65 42.15 423.6 42.6 422.98 43.05 423.58 43.5 424.68 43.95 423.42 44.4 424.1 44.85 424.35 45.3 422.35 45.75 423.46 46.2 424.59 46.65 424.22 47.1 422.03 47.55 424.38 48 423.48 48.45 423.59 48.9 423.68 49.35 423.62 49.8 424.59 50.25 424.57 50.7 424.3 51.15 424.48 51.6 423.41 52.05 422.74 52.5 424.96 52.95 423.65 53.4 425.04 53.85 424.78 54.3 424.37 54.75 424.05 55.2 424.55 55.65 426.53 56.1 422.89 56.55 424.4 57 424.73 57.45 423.53 57.9 424.69 58.35 425.45 58.8 423.7 59.25 423.77 59.7 424.9 60.15 423.38 60.6 423.81 61.05 425.18 61.5 422.55 61.95 423.91 62.4 425.19 62.85 423.74 63.3 424.03 63.75 423.26 64.2 425.38 64.65 423.2 65.1 423.29 65.55 423.52 66 423.59 66.45 422.95 66.9 423.5 67.35 424.03 67.8 424.91 68.25 423.14 68.7 423.25 69.15 423.88 69.6 424.01 70.05 423.49 70.5 426.45 70.95 423.86 71.4 426.43 71.85 423.93 72.3 423.19 72.75 422.42 73.2 424.58 73.65 423.76 74.1 424.22 74.55 426.18 75 423.49 75.45 424.17 75.9 424.09 76.35 425.02 76.8 424.19 77.25 424.08 77.7 422.99 78.15 423.89 78.6 420.97 79.05 424.53 79.5 424.4 79.95 424.2 80.4 424.9 80.85 422.78 81.3 423.57 81.75 425.32 82.2 424.06 82.65 423.11 83.1 425.45 83.55 424.02 84 424.37 84.45 422.03 84.9 423.78 85.35 424.53 85.8 424.67 86.25 422.43 86.7 424.58 87.15 422.07 87.6 425.58 88.05 424.33 88.5 424.38 88.95 424.8 89.4 424.35 89.85 423.53 90.3 424.76 90.75 425.46 91.2 422.93 91.65 422.82 92.1 424.79 92.55 423.88 93 426.5 93.45 423.21 93.9 425.37 94.35 424.66 94.8 422.18 95.25 425.31 95.7 424.14 96.15 425.13 96.6 425.84 97.05 425.22 97.5 423.91 97.95 425.35 98.4 424.7 98.85 423.49 99.3 424.3 99.75 425.35 100.2 422.79 100.65 424.05 101.1 422.87 101.55 425.11 102 422.62 102.45 425.39 102.9 425.75 103.35 424.54 103.8 424.5 104.25 423.92 104.7 424.67 105.15 423.58 105.6 422.94 106.05 424.75 106.5 425.41 106.95 424.52 107.4 423.41 107.85 423.41 108.3 424.47 108.75 425.05 109.2 424.17 109.65 423.27 110.1 424.8 110.55 422.96 111 423.94 111.45 423.88 111.9 424.71 112.35 422.89 112.8 424.09 113.25 425.47 113.7 423.35 114.15 424.46 114.6 423.07 115.05 423.84 115.5 424.48 115.95 423.57 116.4 423.77 116.85 422.95 117.3 417.93 117.75 401.35 117.9 398.46 118.2 408.1 118.65 417.46 119 416.99 119.1 417.76 119.55 420.56 120 422.73 120.45 421.69 120.9 425.3 121.35 424.03 121.8 423.55 122.25 423.26 122.7 425.49 123.15 425.22 123.6 424.16 124.05 423.17 124.5 423.13 124.95 425.52 125.4 424.02 125.85 423.07 126.3 424.12 126.75 425.08 127.2 424.79 127.65 425.35 128.1 423.04 128.55 424.35 129 424.49 129.45 424.86 129.9 424.11 130.35 424.6 130.8 423.96 131.25 420.07 131.6 416.37 131.7 416.26 132.15 421.8 132.6 422.42 133.05 423.94 133.5 423.79 133.95 423.88 134.4 424.85 134.85 423.05 135.3 424.65 135.75 425.58 136.2 423.01 136.65 423.56 137.1 424.67 137.55 423.29 138 423.28 138.45 423.52 138.9 425.22 139.35 424 139.8 425.1 140.25 424.72 140.7 424.67 141.15 424.93 141.6 423.71 142.05 424.88 142.5 423.59 142.95 424 143.4 424.71 143.85 424.01 144.3 423.53 144.75 423.12 145.2 424.4 145.65 422.58 146.1 423.64 146.55 423.03 147 425.39 147.45 425.12 147.9 423.06 148.35 424.36 148.8 423.74 149.25 423.07 149.7 425.47 150.15 423.75 150.6 422.4 151.05 423.43 151.5 424.08 151.95 423.65 152.4 424.15 152.85 423.45 153.3 422.97 153.75 424.36 154.2 423.63 154.65 423.88 155.1 423.48 155.55 423.39 156 425.13 156.45 423.09 156.9 423.37 157.35 425.14 157.8 424.4 158.25 425.46 158.7 424.4 159.15 423.83 159.6 425.17 160.05 424.81 160.5 424.88 160.95 424.69 161.4 424.71 161.85 424.9 162.3 423.25 162.75 423.59 163.2 423.22 163.65 419.93 164.1 421.3 164.55 420.19 165 420.87 165.2 418.14 165.45 420.1 165.9 420.96 166.35 414.74 166.8 401.92 167.25 416.71 167.7 421.6 168.15 423.67 168.6 423.34 169.05 423.76 169.5 423.76 169.95 423.92 170.4 423.43 170.85 424.09 171.3 423.1 171.75 423.25 172.2 425.89 172.65 425.68 173.1 422.63 173.55 424.25 174 422.49 174.3 421.03 174.45 421.35 174.9 421.65 175.35 424.61 175.8 423.93 176.25 423.84 176.7 424.12 177.15 420.62 177.3 419.2 177.6 421.39 178.05 423.21 178.5 425.83 178.95 425.96 179.4 424.16 179.85 424.7 180.3 423.29 180.75 423.85 181.2 421.62 181.5 416.29 181.65 420.34 182.1 423.97 182.55 423.83 183 425.98 183.45 426.17 183.9 424.09 184.35 423.42 184.8 425.33 185.25 424.13 185.7 421.76 186.15 420.09 186.6 425.15 187.05 423.48 187.5 420.66 187.8 419.72 187.95 420.16 188.4 422.05 188.85 420.08 189.3 417.84 189.4 415.82 189.75 418.15 190.2 420.46 190.65 418.5 190.8 420.08 191.1 421.26 191.55 422.3 192 422.65 192.45 423.19 192.9 424.75 193.35 425.99 193.8 426.96 194.25 424.68 194.7 424.27 195.15 420.49 195.3 419.29 195.6 421.01 196.05 423.42 196.5 424.25 196.95 421.85 197.3 416.16 197.4 416.42 197.85 421.56 198.3 422.87 198.75 420.88 199.2 423.7 199.65 423.11 200.1 422.51 200.55 423.67 201 424.65 201.45 422.98 201.9 425.02 202.35 423.52 202.8 424.39 203.25 424.47 203.7 424.39 204.15 424.56 204.6 424.19 205.05 422.55 205.5 422.85 205.95 424.28 206.4 423.74 206.85 423.34 207.3 424.55 207.75 422.5 208.2 424.13 208.65 423.6 209.1 425.02 209.55 425.17 210 425.06 210.45 424.74 210.9 423.22 211.35 424.43 211.8 423.34 212.25 424.5 212.7 424.95 213.15 423.85 213.6 424.12 214.05 424.19 214.5 418.15 214.6 416.6 214.95 421.42 215.4 424.56 215.85 424.61 216.3 425.15 216.75 424.32 217.2 424.98 217.65 424.24 218.1 423.98 218.55 422.94 219 425.16 219.45 425.94 219.9 422.57 220.35 423.46 220.8 423.51 221.25 419.3 221.5 418 221.7 419.35 222.15 422.41 222.6 424.1 223.05 423.9 223.5 423.7 223.95 424.02 224.4 424.36 224.85 423.69 225.3 422.96 225.75 423.01 226.2 424.95 226.65 423.48 227.1 425.88 227.55 425.44 228 423.8 228.45 423.68 228.9 422.94 229.35 425.72 229.8 423.19 230.25 424.66 230.7 424.59 231.15 423.77 231.6 422.9 232.05 425.01 232.5 425.71 232.95 424.71 233.4 424.27 233.85 423.09" fill="none" stroke="#0a0a0a" stroke-width="1.1" stroke-linejoin="miter" stroke-miterlimit="3"/>
<path d="M34.5 474.08 34.95 472.63 35.4 474.7 35.85 475.6 36.3 473.74 36.75 473.4 37.2 473.61 37.65 473.49 38.1 474.05 38.55 474.47 39 474.61 39.45 474.12 39.9 474.26 40.35 473.08 40.8 473.35 41.25 475.05 41.7 473.28 42.15 473.93 42.6 472.9 43.05 472.55 43.5 473.4 43.95 475.52 44.4 473.31 44.85 475.32 45.3 472.48 45.75 474.5 46.2 474.07 46.65 472.25 47.1 475.5 47.55 473.87 48 474.88 48.45 474.37 48.9 474.63 49.35 473.28 49.8 474.18 50.25 473.59 50.7 473.32 51.15 475.46 51.6 472.63 52.05 474.12 52.5 475.41 52.95 474.5 53.4 473.1 53.85 472.99 54.3 474.53 54.75 473.8 55.2 473.68 55.65 472.95 56.1 474.02 56.55 473 57 474.71 57.45 474.56 57.9 473.29 58.35 473.23 58.8 473.94 59.25 473.34 59.7 473.71 60.15 473.19 60.6 472.83 61.05 473.42 61.5 473.14 61.95 474.26 62.4 474.41 62.85 476.05 63.3 473.52 63.75 473.87 64.2 473.41 64.65 475.61 65.1 474.34 65.55 474.41 66 475.55 66.45 473.06 66.9 472.77 67.35 475.06 67.8 473.49 68.25 472.31 68.7 475.01 69.15 472.99 69.6 472.44 70.05 472.18 70.5 475.15 70.95 474.87 71.4 473.7 71.85 472.79 72.3 475.05 72.75 474.59 73.2 474.92 73.65 472.88 74.1 474.41 74.55 473.37 75 473.3 75.45 472.83 75.9 473.51 76.35 473.58 76.8 472.83 77.25 473.46 77.7 475.06 78.15 474.39 78.6 473.06 79.05 473.77 79.5 474.22 79.95 473.67 80.4 470.84 80.85 473.94 81.3 473.45 81.75 473.47 82.2 474.14 82.65 472.79 83.1 473.1 83.55 473.53 84 475.14 84.45 472.73 84.9 473.19 85.35 473.97 85.8 476.38 86.25 473.95 86.7 475.01 87.15 474.11 87.6 474.37 88.05 474.66 88.5 472.96 88.95 473.79 89.4 472.75 89.85 474.79 90.3 474.07 90.75 472.64 91.2 473.59 91.65 474.56 92.1 474.72 92.55 474.44 93 473.97 93.45 473.26 93.9 473.76 94.35 473.2 94.8 473.12 95.25 473.78 95.7 472.7 96.15 473.21 96.6 474.06 97.05 474.05 97.5 473.91 97.95 474.58 98.4 475.14 98.85 473.86 99.3 474.37 99.75 473.35 100.2 474.45 100.65 473.8 101.1 473.71 101.55 474.33 102 473.72 102.45 474.56 102.9 474.29 103.35 473.15 103.8 473.54 104.25 473.9 104.7 474.62 105.15 473.25 105.6 472.05 106.05 475.91 106.5 472.92 106.95 473.69 107.4 472.88 107.85 472.81 108.3 474.83 108.75 472.28 109.2 474.44 109.65 474.12 110.1 473.31 110.55 473.96 111 473.63 111.45 474.35 111.9 474.83 112.35 473.85 112.8 474.86 113.25 472.6 113.7 473.6 114.15 472.5 114.6 474.91 115.05 475.62 115.5 475.68 115.95 473.7 116.4 474.02 116.85 471.05 117.3 467.3 117.75 446.96 117.9 440.83 118.2 453.61 118.65 464.05 119 464.65 119.1 465.71 119.55 471.54 120 473.3 120.45 471.14 120.9 473.74 121.35 473.4 121.8 473.63 122.25 473.82 122.7 473.98 123.15 474.36 123.6 474.33 124.05 475.72 124.5 472.33 124.95 473.97 125.4 475.09 125.85 473.4 126.3 473.26 126.75 475.21 127.2 474.36 127.65 472.49 128.1 473.36 128.55 473.46 129 472.91 129.45 473.9 129.9 473.95 130.35 471.94 130.8 472.71 131.25 468.82 131.6 463.31 131.7 464.52 132.15 472.26 132.6 471.33 133.05 473.63 133.5 472.08 133.95 473.34 134.4 474.68 134.85 472.44 135.3 474.04 135.75 474.68 136.2 473.91 136.65 475.87 137.1 473.52 137.55 474.57 138 474.13 138.45 474.72 138.9 473.27 139.35 473.57 139.8 472.9 140.25 472.36 140.7 473.64 141.15 473.81 141.6 473.62 142.05 474.65 142.5 474.41 142.95 473.2 143.4 474.69 143.85 475.69 144.3 474.23 144.75 473.67 145.2 472.55 145.65 474.56 146.1 474.76 146.55 473.81 147 474.04 147.45 473.67 147.9 474.38 148.35 473.72 148.8 474.44 149.25 472.99 149.7 473.64 150.15 473.37 150.6 474.31 151.05 475.22 151.5 473.89 151.95 473.95 152.4 472.89 152.85 473.01 153.3 473.93 153.75 473.94 154.2 474.81 154.65 473.93 155.1 473.7 155.55 474.27 156 474.89 156.45 472.71 156.9 474.74 157.35 472.36 157.8 472.79 158.25 472.45 158.7 474.64 159.15 473.27 159.6 475.11 160.05 474.15 160.5 475.18 160.95 474.41 161.4 474.12 161.85 472.64 162.3 472.25 162.75 472.95 163.2 471.32 163.65 469.12 163.8 468.79 164.1 469.83 164.55 468.75 165 465.88 165.2 466.56 165.45 466.01 165.9 468.08 166.35 459.48 166.8 434.63 167.25 458.81 167.7 470.42 168.15 471.65 168.6 473.45 169.05 474.47 169.5 475.46 169.95 474.15 170.4 474.65 170.85 472.97 171.3 473.42 171.75 475.33 172.2 473.07 172.65 473.33 173.1 476.41 173.55 474.45 174 471.71 174.3 471.13 174.45 471.22 174.9 472.77 175.35 473.44 175.8 473.28 176.25 472.94 176.7 473.39 177.15 466.06 177.3 466.61 177.6 468.32 178.05 473.37 178.5 473.27 178.95 474.11 179.4 476.02 179.85 474.13 180.3 473.52 180.75 472.28 181.2 469.45 181.5 466.04 181.65 466.99 182.1 471.28 182.55 474.22 183 475.78 183.45 474.48 183.9 475.77 184.35 474.63 184.8 474.48 185.25 474.48 185.7 472.27 186 472.14 186.15 470.6 186.6 472.94 187.05 471.1 187.5 469 187.8 468.16 187.95 467.8 188.4 470.51 188.85 469.8 189.3 464.69 189.4 464.98 189.75 467.69 190.2 469.83 190.65 468.62 190.8 466.85 191.1 471.97 191.55 473.39 192 473.78 192.45 472.44 192.9 473.16 193.35 475.06 193.6 476.02 193.8 474.6 194.25 473.49 194.7 473.23 195.15 468.37 195.3 467.75 195.6 470.99 196.05 473.65 196.5 474.44 196.95 469.45 197.3 463.76 197.4 465.48 197.85 472.84 198.3 471.87 198.75 470.56 198.8 469.79 199.2 472.65 199.65 473.34 200.1 472.41 200.55 473.18 201 472.43 201.45 472.94 201.9 473.54 202.35 474.86 202.8 474.41 203.25 473.75 203.7 472.9 204.15 473.98 204.6 473.97 205.05 473.48 205.5 473.85 205.95 474.09 206.4 474.97 206.85 472.85 207.3 474 207.75 474.42 208.2 474.05 208.65 475.15 209.1 475.47 209.55 475.57 210 473.63 210.45 475.16 210.9 473.87 211.35 475.04 211.8 475.57 212.25 474.53 212.7 474.64 213.15 474.6 213.6 472.42 214.05 473.8 214.5 474.51 214.95 473.19 215.4 474.27 215.85 472.88 216.3 475.38 216.75 473 217.2 474.95 217.65 474.64 218.1 473.8 218.55 474.95 219 475.46 219.45 474.34 219.9 474.25 220.35 475.46 220.8 473.11 221.25 474.73 221.7 474.55 222.15 474.2 222.6 473.95 223.05 473.04 223.5 475.93 223.95 473.99 224.4 473.19 224.85 473.78 225.3 474.06 225.75 475 226.2 473.69 226.65 474.43 227.1 473.87 227.55 474.95 228 474.28 228.45 474.13 228.9 475.33 229.35 473.07 229.8 474.11 230.25 475.15 230.7 474.22 231.15 473.88 231.6 474.31 232.05 474.93 232.5 474.2 232.95 475.22 233.4 475.5 233.85 472.94" fill="none" stroke="#0a0a0a" stroke-width="1.1" stroke-linejoin="miter" stroke-miterlimit="3"/>
<text x="236.5" y="337.3" font-size="27" font-weight="bold">f</text>
<rect x="397" y="345.5" width="4.9" height="139.2" fill="#ffb3b3"/>
<rect x="418.9" y="345.5" width="10.8" height="139.2" fill="#ffb3b3"/>
<text x="266.1" y="353.6" font-size="14.7" stroke="#000" stroke-width="0.15">before irradiation</text>
<text x="266.1" y="403" font-size="14.7" stroke="#000" stroke-width="0.15">365 nm, 1 min</text>
<text x="266.1" y="448.6" font-size="14.7" stroke="#000" stroke-width="0.15">450 nm, 10 min</text>
<path d="M266.4 487.1H464.7M274.4 487.1v1M286.3 487.1v1.7M298.2 487.1v1M310.1 487.1v1.7M322 487.1v1M333.9 487.1v1.7M345.8 487.1v1M357.7 487.1v1.7M369.6 487.1v1M381.5 487.1v1.7M393.4 487.1v1M405.3 487.1v1.7M417.2 487.1v1M429.1 487.1v1.7M441 487.1v1M452.9 487.1v1.7" stroke="#444" stroke-width="0.95" fill="none"/>
<g font-family="'DejaVu Sans', sans-serif" font-size="11.6" text-anchor="middle" stroke="#000" stroke-width="0.15">
<text x="289.3" y="500.9">2.7</text>
<text x="313" y="500.9">2.6</text>
<text x="336.7" y="500.9">2.5</text>
<text x="360.4" y="500.9">2.4</text>
<text x="384.1" y="500.9">2.3</text>
<text x="407.8" y="500.9">2.2</text>
<text x="431.5" y="500.9">2.1</text>
<text x="455.2" y="500.9">2.0</text>
<text x="365" y="514.9" font-size="11.6">δ in ppm</text>
</g>
<path d="M266.4 376.24 266.9 376.14 267.4 376.55 267.9 376.57 268.4 376.32 268.9 376.05 269.4 376.31 269.9 376.62 270.4 376.55 270.9 376.4 271.4 376.21 271.9 376.4 272.4 376.47 272.9 376.44 273.4 376.36 273.9 376.54 274.4 376.39 274.9 376.34 275.4 376.07 275.9 376.4 276.4 376.2 276.9 376.6 277.4 376.23 277.9 376.36 278.4 376.5 278.9 376.4 279.4 376.22 279.9 376.46 280.4 376.19 280.9 376.1 281.4 376.08 281.9 376.08 282.4 376.64 282.9 376.33 283.4 376.53 283.9 376.21 284.4 376.38 284.9 376.35 285.4 376.3 285.9 376.51 286.4 376.37 286.9 376.53 287.4 375.98 287.9 376.48 288.4 376.39 288.9 376.74 289.4 376.68 289.9 376.56 290.4 376.24 290.9 376.24 291.4 376.34 291.9 376.52 292.4 376.03 292.9 376.59 293.4 376.56 293.9 376.3 294.4 376.59 294.9 376.34 295.4 376.2 295.9 376.41 296.4 376.31 296.9 376.39 297.4 376.53 297.9 377.02 298.4 376.63 298.9 376.39 299.4 376.72 299.9 376.5 300.4 376.35 300.9 376.13 301.4 376.66 301.9 376.5 302.4 376.35 302.9 376.29 303.4 376.66 303.9 376.03 304.4 376.55 304.9 376.18 305.4 376.43 305.9 376.31 306.4 376.06 306.9 376.25 307.4 376.37 307.9 376.59 308.4 376.52 308.9 376.67 309.4 375.99 309.9 376.7 310.4 376.9 310.9 376.07 311.4 376.14 311.9 376.46 312.4 376.23 312.9 376.56 313.4 376.51 313.9 376.29 314.4 376.32 314.9 376.48 315.4 376.07 315.9 376.25 316.4 376.37 316.9 376.63 317.4 376.37 317.9 376.46 318.4 376.41 318.9 376.23 319.4 376.51 319.9 376.34 320.4 376.24 320.9 376.32 321.4 375.94 321.9 376.74 322.4 376.41 322.9 376.63 323.4 376.41 323.9 375.89 324.4 376.72 324.9 376.45 325.4 376.26 325.9 376.38 326.4 376.21 326.9 376.7 327.4 376.2 327.9 376.58 328.4 376.64 328.9 376.28 329.4 376.3 329.9 376.54 330.4 376.56 330.9 376.43 331.4 376.4 331.9 376.43 332.4 376.6 332.9 376.86 333.4 376.13 333.9 376.36 334.4 376.64 334.9 376.71 335.4 376.53 335.9 376.48 336.4 376.82 336.9 376.12 337.4 376.31 337.9 376.46 338.4 376.33 338.9 376.35 339.4 376.18 339.9 376.37 340.4 376.15 340.9 376.09 341.4 376.46 341.9 376.49 342.4 376.57 342.9 376.44 343.4 376.54 343.9 376.39 344.4 376.34 344.9 376.29 345.4 376.63 345.9 376.18 346.4 376.46 346.9 376.42 347.4 376.5 347.9 376.79 348.4 376.35 348.9 376.75 349.4 376.18 349.9 376.39 350.4 376.09 350.9 376.27 351.4 376.26 351.9 376.12 352.4 376.4 352.9 376.09 353.4 376.42 353.9 376.35 354.4 376.53 354.9 376.29 355.4 376.26 355.9 376.5 356.4 376.65 356.9 376.4 357.4 376.31 357.9 376.43 358.4 376.59 358.9 376.54 359.4 376.45 359.9 376.92 360.4 376.51 360.9 376.11 361.4 376.65 361.9 376.44 362.4 376.06 362.9 376.26 363.4 376.21 363.9 376.43 364.4 376.66 364.9 375.82 365.4 376.34 365.9 376.35 366.4 376.07 366.9 376.23 367.4 376.38 367.9 376.61 368.4 376.43 368.9 376.42 369.4 376.53 369.9 376.57 370.4 376.59 370.9 376.42 371.4 376.51 371.9 376.31 372.4 376.19 372.9 376.33 373.4 376.39 373.9 376.08 374.4 376.26 374.9 376.68 375.4 376.53 375.9 376.35 376.4 376.56 376.9 376.23 377.4 376.73 377.9 376.75 378.4 376.17 378.9 376.25 379.4 376.68 379.9 376.33 380.4 376.07 380.9 376.54 381.4 376.53 381.9 376.5 382.4 376.41 382.9 376.47 383.4 376.09 383.9 376.03 384.4 375.22 384.9 373.67 385.4 371.54 385.9 364.17 386.4 355.36 386.47 355.84 386.9 361.43 387.4 369.92 387.9 373.63 388.4 374.82 388.9 375.68 389.4 375.82 389.9 376.11 390.4 376.14 390.9 376.31 391.4 375.71 391.9 376.15 392.4 376.32 392.9 375.63 393.4 375.58 393.9 375.7 394.4 375.38 394.9 374.59 395.4 372.47 395.9 368.61 396.4 357.91 396.9 337.71 397.13 333.44 397.4 338.98 397.9 358.34 398.4 368.75 398.9 372.63 399.4 374.44 399.9 375.04 400.4 375.73 400.9 375.74 401.4 375.86 401.9 376.23 402.4 376.47 402.9 376.14 403.4 376.3 403.9 376.18 404.4 376.43 404.9 376.21 405.4 376.13 405.9 375.86 406.4 375.97 406.9 376.25 407.4 376.04 407.9 376.44 408.4 376.07 408.9 376.27 409.4 376.01 409.9 376.17 410.4 376.24 410.9 376.27 411.4 375.78 411.9 375.86 412.4 375.46 412.9 375.02 413.4 374.56 413.9 371.9 414.4 366.8 414.9 353.26 415.4 334.36 415.51 333.75 415.9 344.17 416.4 362.24 416.9 370.21 417.4 373.24 417.9 374.91 418.4 375.48 418.9 375.65 419.4 376.34 419.9 375.73 420.4 376.37 420.9 375.97 421.4 376.24 421.9 375.92 422.4 376.11 422.9 376.34 423.4 376.68 423.9 376.33 424.4 376.3 424.9 376.26 425.4 376.62 425.9 376.54 426.4 376.53 426.9 376.32 427.4 376.56 427.9 376.41 428.4 376.2 428.9 376.47 429.4 376.12 429.9 376.33 430.4 376.44 430.9 376.17 431.4 376.29 431.9 376.45 432.4 376.51 432.9 376.4 433.4 376.33 433.9 376.17 434.4 376.34 434.9 376.52 435.4 376.66 435.9 376.35 436.4 376.32 436.9 376.17 437.4 376.5 437.9 376.65 438.4 376.23 438.9 376.43 439.4 376.64 439.9 376.07 440.4 376.22 440.9 376.39 441.4 376.34 441.9 376.55 442.4 376.2 442.9 376.48 443.4 376.49 443.9 376.46 444.4 376.62 444.9 376.19 445.4 376.07 445.9 376.25 446.4 376.81 446.9 376.46 447.4 376.53 447.9 376.32 448.4 376.82 448.9 376.83 449.4 376.49 449.9 376.2 450.4 376.44 450.9 375.96 451.4 376.57 451.9 376.39 452.4 376.43 452.9 376.56 453.4 376.18 453.9 376.66 454.4 376.61 454.9 376.47 455.4 376.49 455.9 376.17 456.4 376.5 456.9 376.3 457.4 376.49 457.9 376.15 458.4 376.4 458.9 376.35 459.4 376.72 459.9 376.26 460.4 376.53 460.9 376.22 461.4 376.3 461.9 376.29 462.4 376.18 462.9 376.32 463.4 376.57 463.9 376.37 464.4 376.37" fill="none" stroke="#0a0a0a" stroke-width="1" stroke-linejoin="miter" stroke-miterlimit="3"/>
<path d="M266.4 424.69 266.9 424.83 267.4 424.08 267.9 424.69 268.4 424.76 268.9 424.71 269.4 424.91 269.9 424.95 270.4 424.69 270.9 424.89 271.4 424.63 271.9 424.84 272.4 425.17 272.9 425.08 273.4 424.98 273.9 425.22 274.4 424.82 274.9 424.86 275.4 424.6 275.9 424.98 276.4 424.85 276.9 424.68 277.4 424.64 277.9 425.01 278.4 424.48 278.9 424.93 279.4 424.55 279.9 424.86 280.4 424.89 280.9 425.06 281.4 424.83 281.9 424.3 282.4 424.93 282.9 424.48 283.4 424.52 283.9 424.88 284.4 424.57 284.9 424.51 285.4 424.86 285.9 424.91 286.4 424.57 286.9 424.73 287.4 424.35 287.9 424.71 288.4 425.04 288.9 424.81 289.4 425.05 289.9 424.64 290.4 424.65 290.9 424.89 291.4 424.99 291.9 424.61 292.4 424.88 292.9 424.54 293.4 425.01 293.9 424.86 294.4 424.91 294.9 425.02 295.4 424.23 295.9 424.45 296.4 424.93 296.9 424.63 297.4 425.18 297.9 424.54 298.4 424.57 298.9 424.87 299.4 424.87 299.9 424.75 300.4 424.7 300.9 424.87 301.4 424.98 301.9 424.85 302.4 424.89 302.9 424.63 303.4 424.78 303.9 424.75 304.4 425.15 304.9 424.88 305.4 424.88 305.9 424.91 306.4 424.82 306.9 424.86 307.4 425.12 307.9 424.6 308.4 424.6 308.9 424.91 309.4 424.67 309.9 424.99 310.4 425.06 310.9 424.84 311.4 424.47 311.9 424.82 312.4 425.12 312.9 424.75 313.4 424.92 313.9 424.95 314.4 424.72 314.9 425.16 315.4 425.17 315.9 425.1 316.4 424.57 316.9 424.77 317.4 424.92 317.9 424.94 318.4 424.65 318.9 424.53 319.4 424.94 319.9 424.74 320.4 424.3 320.9 424.66 321.4 424.86 321.9 424.72 322.4 424.77 322.9 424.65 323.4 424.72 323.9 424.89 324.4 424.81 324.9 424.71 325.4 424.93 325.9 424.77 326.4 424.98 326.9 424.53 327.4 424.46 327.9 424.97 328.4 424.61 328.9 424.75 329.4 424.77 329.9 424.84 330.4 424.73 330.9 424.58 331.4 425.05 331.9 424.58 332.4 424.84 332.9 425.02 333.4 424.8 333.9 424.65 334.4 424.81 334.9 424.73 335.4 424.86 335.9 424.9 336.4 424.58 336.9 424.98 337.4 424.58 337.9 424.72 338.4 424.85 338.9 424.84 339.4 424.85 339.9 424.8 340.4 424.8 340.9 424.82 341.4 425.19 341.9 425.23 342.4 424.72 342.9 424.92 343.4 424.91 343.9 424.82 344.4 425.02 344.9 424.47 345.4 424.79 345.9 424.82 346.4 425.01 346.9 424.6 347.4 424.64 347.9 424.48 348.4 424.6 348.9 424.96 349.4 425.05 349.9 424.5 350.4 424.93 350.9 424.81 351.4 424.82 351.9 424.68 352.4 424.67 352.9 425 353.4 424.92 353.9 425.15 354.4 424.67 354.9 424.82 355.4 425.14 355.9 424.57 356.4 424.78 356.9 425 357.4 424.87 357.9 424.91 358.4 424.76 358.9 424.74 359.4 424.91 359.9 424.7 360.4 425.32 360.9 424.86 361.4 424.65 361.9 424.59 362.4 424.62 362.9 425 363.4 425.13 363.9 424.86 364.4 424.32 364.9 424.73 365.4 424.94 365.9 425.13 366.4 424.76 366.9 424.88 367.4 424.68 367.9 424.75 368.4 425.27 368.9 424.81 369.4 424.62 369.9 424.91 370.4 425.03 370.9 425.02 371.4 425.06 371.9 424.33 372.4 424.49 372.9 424.91 373.4 424.5 373.9 425 374.4 424.89 374.9 424.93 375.4 424.82 375.9 424.64 376.4 424.36 376.9 424.62 377.4 424.79 377.9 424.73 378.4 424.81 378.9 424.68 379.4 424.92 379.9 424.68 380.4 424.63 380.9 424.51 381.4 424.85 381.9 424.55 382.4 424.52 382.9 424.65 383.4 424.73 383.9 424.15 384.4 423.29 384.9 422.25 385.4 418.54 385.9 410.91 386.4 401.17 386.47 400.8 386.9 407.63 387.4 417.31 387.9 421.62 388.4 423.1 388.9 423.29 389.4 424.05 389.9 424.39 390.4 424.62 390.9 424.94 391.4 424.57 391.9 424.7 392.4 424.62 392.9 424.7 393.4 424.39 393.9 424.25 394.4 424.47 394.9 424.34 395.4 423.42 395.9 421.81 396.4 418.31 396.9 410.81 397.13 409.29 397.4 411.02 397.9 417.08 398.4 418.42 398.9 414.14 399.4 400.68 399.81 391.26 399.9 392.13 400.4 407.68 400.9 418.16 401.4 421.67 401.9 423.25 402.4 423.93 402.9 424 403.4 424.55 403.9 424.58 404.4 424.46 404.9 424.82 405.4 425.11 405.9 424.81 406.4 424.54 406.9 424.84 407.4 424.78 407.9 425.11 408.4 424.49 408.9 425.08 409.4 424.86 409.9 424.75 410.4 424.31 410.9 424.66 411.4 424.79 411.9 424.89 412.4 424.56 412.9 424.58 413.4 424.11 413.9 423.23 414.4 421.15 414.9 416.95 415.4 409.85 415.51 410.16 415.9 413.1 416.4 419.94 416.9 422.69 417.4 423.8 417.9 424.11 418.4 424.38 418.9 424.54 419.4 424.65 419.9 424.62 420.4 424.45 420.9 424.49 421.4 424.36 421.9 424.21 422.4 423.33 422.9 421.99 423.4 419.32 423.9 411.21 424.4 395.96 424.69 390.76 424.9 394.02 425.4 409.29 425.9 418.07 426.4 421.4 426.9 423.34 427.4 423.89 427.9 424.07 428.4 424.3 428.9 424.65 429.4 424.59 429.9 424.45 430.4 424.57 430.9 424.72 431.4 424.51 431.9 425.04 432.4 424.66 432.9 424.89 433.4 424.83 433.9 424.6 434.4 424.42 434.9 424.68 435.4 424.75 435.9 424.44 436.4 424.63 436.9 425.23 437.4 424.9 437.9 424.92 438.4 424.92 438.9 425.09 439.4 424.65 439.9 424.75 440.4 424.44 440.9 424.84 441.4 424.76 441.9 424.94 442.4 424.58 442.9 424.53 443.4 424.45 443.9 424.58 444.4 424.9 444.9 424.54 445.4 424.97 445.9 424.91 446.4 424.83 446.9 424.37 447.4 424.93 447.9 424.99 448.4 424.74 448.9 424.55 449.4 424.67 449.9 424.68 450.4 424.96 450.9 424.86 451.4 424.53 451.9 424.77 452.4 424.92 452.9 424.86 453.4 424.52 453.9 424.44 454.4 424.7 454.9 424.95 455.4 424.45 455.9 424.91 456.4 424.77 456.9 424.7 457.4 424.79 457.9 424.82 458.4 424.46 458.9 424.72 459.4 425.07 459.9 424.9 460.4 424.52 460.9 424.82 461.4 424.99 461.9 424.6 462.4 424.69 462.9 424.78 463.4 424.67 463.9 424.86 464.4 424.75" fill="none" stroke="#0a0a0a" stroke-width="1" stroke-linejoin="miter" stroke-miterlimit="3"/>
<path d="M266.4 473.47 266.9 474.12 267.4 473.83 267.9 473.95 268.4 474.08 268.9 474.01 269.4 474 269.9 473.92 270.4 473.82 270.9 473.7 271.4 473.86 271.9 473.68 272.4 473.82 272.9 473.89 273.4 473.95 273.9 474.1 274.4 474.22 274.9 473.93 275.4 473.94 275.9 473.85 276.4 473.84 276.9 474.16 277.4 474.05 277.9 474.13 278.4 473.71 278.9 473.93 279.4 473.89 279.9 474.09 280.4 474.16 280.9 474.03 281.4 473.93 281.9 473.82 282.4 474.21 282.9 473.85 283.4 474.08 283.9 474.02 284.4 473.98 284.9 474 285.4 473.82 285.9 473.74 286.4 473.85 286.9 474.02 287.4 473.83 287.9 473.84 288.4 473.74 288.9 473.86 289.4 474.23 289.9 474.06 290.4 473.99 290.9 473.73 291.4 473.94 291.9 473.73 292.4 473.86 292.9 474.15 293.4 473.9 293.9 473.8 294.4 473.83 294.9 474.21 295.4 473.83 295.9 474.03 296.4 474.33 296.9 474.03 297.4 474.3 297.9 474.17 298.4 473.63 298.9 473.43 299.4 473.71 299.9 473.83 300.4 473.54 300.9 473.85 301.4 474.11 301.9 474.4 302.4 473.73 302.9 474.36 303.4 474.48 303.9 474.04 304.4 473.9 304.9 474.08 305.4 473.71 305.9 473.93 306.4 473.87 306.9 473.83 307.4 474.03 307.9 473.87 308.4 473.45 308.9 474.1 309.4 473.88 309.9 473.81 310.4 474.02 310.9 473.92 311.4 474.25 311.9 474 312.4 473.9 312.9 473.69 313.4 473.72 313.9 474.03 314.4 474.13 314.9 473.55 315.4 473.73 315.9 474.29 316.4 473.98 316.9 474.09 317.4 474.03 317.9 474.25 318.4 473.99 318.9 474.01 319.4 473.96 319.9 473.7 320.4 473.87 320.9 474.15 321.4 474.26 321.9 474.02 322.4 473.68 322.9 473.72 323.4 474.03 323.9 473.68 324.4 473.82 324.9 474.03 325.4 473.82 325.9 473.92 326.4 474.13 326.9 473.99 327.4 473.88 327.9 473.64 328.4 474.11 328.9 473.86 329.4 473.9 329.9 473.92 330.4 474.15 330.9 473.65 331.4 473.65 331.9 473.59 332.4 473.81 332.9 473.61 333.4 473.8 333.9 473.71 334.4 473.97 334.9 473.86 335.4 473.97 335.9 474.12 336.4 473.99 336.9 474.13 337.4 474.13 337.9 473.98 338.4 474.03 338.9 473.49 339.4 473.55 339.9 473.69 340.4 473.75 340.9 474.08 341.4 473.85 341.9 474.19 342.4 474.03 342.9 474 343.4 473.98 343.9 473.73 344.4 474.06 344.9 473.42 345.4 474.01 345.9 473.73 346.4 474.22 346.9 473.72 347.4 474.15 347.9 473.86 348.4 473.9 348.9 473.74 349.4 473.78 349.9 473.82 350.4 473.93 350.9 473.51 351.4 474 351.9 473.9 352.4 474 352.9 473.88 353.4 474.1 353.9 473.99 354.4 473.8 354.9 474.02 355.4 473.81 355.9 474.02 356.4 473.62 356.9 473.93 357.4 473.55 357.9 473.8 358.4 473.93 358.9 473.71 359.4 473.67 359.9 473.59 360.4 473.62 360.9 473.72 361.4 474.14 361.9 473.71 362.4 473.92 362.9 473.82 363.4 473.65 363.9 474.05 364.4 473.63 364.9 473.42 365.4 473.79 365.9 473.96 366.4 473.62 366.9 473.86 367.4 473.69 367.9 473.65 368.4 474.2 368.9 473.83 369.4 474.21 369.9 474.04 370.4 473.78 370.9 474.14 371.4 474.04 371.9 473.99 372.4 473.83 372.9 473.83 373.4 473.81 373.9 474 374.4 474.05 374.9 473.81 375.4 474.07 375.9 474.05 376.4 473.75 376.9 474.05 377.4 474.06 377.9 473.65 378.4 473.88 378.9 474.32 379.4 474.01 379.9 473.46 380.4 473.26 380.9 473.88 381.4 473.65 381.9 473.6 382.4 473.63 382.9 473.96 383.4 473.24 383.9 473.09 384.4 472.62 384.9 471.63 385.4 468.24 385.9 460.16 386.4 450.18 386.47 449.84 386.9 456.91 387.4 466.3 387.9 470.54 388.4 472.52 388.9 473.11 389.4 473.24 389.9 473.61 390.4 473.31 390.9 473.74 391.4 473.59 391.9 473.5 392.4 473.81 392.9 473.24 393.4 473.39 393.9 473.24 394.4 472.79 394.9 472.11 395.4 470.16 395.9 465.02 396.4 453.57 396.9 431.86 397.13 426.86 397.4 432.88 397.9 454.75 398.4 465.78 398.9 470 399.4 471.65 399.9 472.65 400.4 472.81 400.9 473.44 401.4 473.61 401.9 473.92 402.4 473.71 402.9 473.62 403.4 473.82 403.9 473.83 404.4 474.01 404.9 473.94 405.4 473.92 405.9 473.85 406.4 473.62 406.9 473.73 407.4 473.64 407.9 473.58 408.4 473.9 408.9 473.52 409.4 473.76 409.9 474 410.4 473.81 410.9 473.63 411.4 473.82 411.9 472.87 412.4 473.05 412.9 472.33 413.4 471.69 413.9 469.1 414.4 463.29 414.9 448.85 415.4 428.01 415.51 426.9 415.9 438.54 416.4 458.66 416.9 467.13 417.4 470.72 417.9 472.31 418.4 473.29 418.9 473.27 419.4 473.52 419.9 473.11 420.4 473.91 420.9 473.43 421.4 473.52 421.9 473.72 422.4 473.77 422.9 473.74 423.4 474.15 423.9 473.58 424.4 473.93 424.9 474.02 425.4 473.88 425.9 474.43 426.4 474.15 426.9 474.13 427.4 474.21 427.9 473.78 428.4 473.58 428.9 473.9 429.4 473.96 429.9 473.84 430.4 474 430.9 473.88 431.4 473.82 431.9 473.95 432.4 473.99 432.9 473.89 433.4 473.89 433.9 473.77 434.4 474.21 434.9 474.13 435.4 474.01 435.9 473.81 436.4 474.17 436.9 473.67 437.4 473.62 437.9 474.06 438.4 473.69 438.9 474.33 439.4 473.93 439.9 474.23 440.4 473.7 440.9 473.74 441.4 473.81 441.9 474.03 442.4 474.14 442.9 473.83 443.4 474.02 443.9 473.78 444.4 474.23 444.9 473.83 445.4 473.81 445.9 474.37 446.4 474.17 446.9 474.06 447.4 474.04 447.9 474.26 448.4 473.91 448.9 474.14 449.4 473.93 449.9 474.29 450.4 474.16 450.9 473.78 451.4 474.26 451.9 473.93 452.4 473.63 452.9 473.76 453.4 474.18 453.9 473.48 454.4 474.03 454.9 473.73 455.4 473.73 455.9 473.98 456.4 473.79 456.9 474.47 457.4 473.9 457.9 473.89 458.4 473.99 458.9 473.9 459.4 473.71 459.9 473.73 460.4 474.05 460.9 473.76 461.4 473.69 461.9 473.9 462.4 473.84 462.9 474.41 463.4 474.24 463.9 473.85 464.4 474.22" fill="none" stroke="#0a0a0a" stroke-width="1" stroke-linejoin="miter" stroke-miterlimit="3"/>
<text x="459" y="337.3" font-size="27" font-weight="bold">g</text>
<rect x="608.1" y="345.5" width="8.7" height="139.2" fill="#ffb3b3"/>
<rect x="648.2" y="345.5" width="11.9" height="139.2" fill="#ffb3b3"/>
<rect x="671.1" y="345.5" width="10.3" height="139.2" fill="#ffb3b3"/>
<text x="486.1" y="353.6" font-size="14.7" stroke="#000" stroke-width="0.15">before irradiation</text>
<text x="486.1" y="403" font-size="14.7" stroke="#000" stroke-width="0.15">365 nm, 30 s</text>
<text x="486.1" y="448.6" font-size="14.7" stroke="#000" stroke-width="0.15">430 nm, 40 s</text>
<path d="M486.4 487.1H685M490.58 487.1v1M504 487.1v1.7M517.42 487.1v1M530.84 487.1v1.7M544.26 487.1v1M557.68 487.1v1.7M571.1 487.1v1M584.52 487.1v1.7M597.94 487.1v1M611.36 487.1v1.7M624.78 487.1v1M638.2 487.1v1.7M651.62 487.1v1M665.04 487.1v1.7M678.46 487.1v1" stroke="#444" stroke-width="0.95" fill="none"/>
<g font-family="'DejaVu Sans', sans-serif" font-size="11.6" text-anchor="middle" stroke="#000" stroke-width="0.15">
<text x="506.3" y="500.9">8.8</text>
<text x="533.14" y="500.9">8.6</text>
<text x="559.98" y="500.9">8.4</text>
<text x="586.82" y="500.9">8.2</text>
<text x="613.66" y="500.9">8.0</text>
<text x="640.5" y="500.9">7.8</text>
<text x="667.34" y="500.9">7.6</text>
<text x="587.6" y="514.9" font-size="11.6">δ in ppm</text>
</g>
<path d="M486.4 376.11 486.9 376.19 487.4 376.41 487.9 376.03 488.4 376.14 488.9 376.13 489.4 376.17 489.9 375.9 490.4 376.02 490.9 375.96 491.4 376.25 491.9 376.28 492.4 376.39 492.9 376.24 493.4 376.71 493.9 375.89 494.4 376.17 494.9 376.18 495.4 376.03 495.9 376.27 496.4 376.15 496.9 376.05 497.4 376.5 497.9 375.86 498.4 376.17 498.9 376.08 499.4 376.4 499.9 376.32 500.4 375.87 500.9 376.3 501.4 376.27 501.9 376.1 502.4 375.92 502.9 376.66 503.4 375.91 503.9 376.14 504.4 376.02 504.9 376.39 505.4 376.14 505.9 375.89 506.4 376.21 506.9 376.32 507.4 376.28 507.9 376.3 508.4 376.04 508.9 376.16 509.4 376.29 509.9 376.04 510.4 376.41 510.9 376.47 511.4 375.72 511.9 376.32 512.4 375.88 512.9 376.21 513.4 376.24 513.9 376.09 514.4 376.36 514.9 376.36 515.4 376.24 515.9 376.27 516.4 376.06 516.9 375.82 517.4 376.42 517.9 376.37 518.4 376.05 518.9 376.1 519.4 375.98 519.9 376.34 520.4 376.08 520.9 376.21 521.4 376.51 521.9 376.11 522.4 376.5 522.9 376.09 523.4 376.28 523.9 376.23 524.4 375.78 524.9 375.9 525.4 376.11 525.9 376.12 526.4 376.35 526.9 375.96 527.4 376.08 527.9 376.36 528.4 376.52 528.9 376.2 529.4 376.23 529.9 376.03 530.4 376.39 530.9 376.37 531.4 376.11 531.9 376.18 532.4 376.01 532.9 375.98 533.4 376.37 533.9 376.65 534.4 376.18 534.9 376.34 535.4 376.15 535.9 376.72 536.4 376.22 536.9 376.18 537.4 376.3 537.9 376.1 538.4 376.18 538.9 376.15 539.4 375.94 539.9 375.95 540.4 375.96 540.9 376.12 541.4 376.17 541.9 376.09 542.4 376.13 542.9 376.34 543.4 376.12 543.9 376.02 544.4 376.27 544.9 376.41 545.4 376.08 545.9 376.34 546.4 376.48 546.9 376.24 547.4 376.48 547.9 376.13 548.4 376.29 548.9 376.18 549.4 375.98 549.9 375.98 550.4 376.21 550.9 376.63 551.4 376.29 551.9 376.42 552.4 376.02 552.9 375.9 553.4 376.06 553.9 376.07 554.4 376.09 554.9 376.06 555.4 376.27 555.9 376.02 556.4 376.25 556.9 376.42 557.4 376.19 557.9 375.89 558.4 376.23 558.9 376.54 559.4 375.96 559.9 376.15 560.4 376.09 560.9 376.28 561.4 376.1 561.9 375.88 562.4 376.32 562.9 376.06 563.4 376.13 563.9 376.36 564.4 376.16 564.9 376.08 565.4 376.36 565.9 375.97 566.4 376.41 566.9 375.97 567.4 376.07 567.9 376.14 568.4 376.34 568.9 376.34 569.4 376.62 569.9 376.2 570.4 376.22 570.9 376.09 571.4 376 571.9 376.16 572.4 376.26 572.9 376 573.4 376.2 573.9 376.2 574.4 376.42 574.9 375.99 575.4 376.32 575.9 375.82 576.4 376.36 576.9 376.29 577.4 376.18 577.9 376.33 578.4 376.47 578.9 376.41 579.4 376.35 579.9 376.24 580.4 376 580.9 376.06 581.4 376.13 581.9 376.03 582.4 376.6 582.9 376.3 583.4 376.29 583.9 376.37 584.4 376.08 584.9 376.28 585.4 376.35 585.9 375.93 586.4 376.15 586.9 375.88 587.4 375.47 587.9 371.6 588.4 358.29 588.43 357.89 588.9 370.29 589.4 374.84 589.9 375.79 590.4 376.04 590.9 375.57 591.4 375.77 591.9 375.11 592.4 373.07 592.9 363.44 593.03 360.7 593.4 366.76 593.8 368.82 593.9 368.7 594.4 360.95 594.56 358.96 594.9 367.57 595.4 374.33 595.9 375.41 596.4 375.44 596.9 375.75 597.4 375.74 597.9 374.23 598.4 366.87 598.7 358.6 598.9 362.9 599.4 373.89 599.9 375.51 600.4 376.03 600.9 375.93 601.4 375.88 601.9 375.71 602.4 374.83 602.9 370.55 602.99 369.9 603.4 373.01 603.9 371.5 604.22 368.69 604.4 369.27 604.9 372.76 605.4 372.28 605.9 367.47 606.4 373.24 606.9 375.55 607.4 375.8 607.9 375.9 608.4 376.36 608.9 375.88 609.4 376.31 609.9 376 610.4 376.27 610.9 376.47 611.4 376.29 611.9 376.28 612.4 376.16 612.9 376.5 613.4 376.37 613.9 376.12 614.4 376.25 614.9 376.28 615.4 376.09 615.9 376.42 616.4 375.79 616.9 376.3 617.4 376.08 617.9 376.16 618.4 375.91 618.9 376.12 619.4 376.08 619.9 375.66 620.4 375.11 620.9 374.32 621.4 373.21 621.9 374.08 622.4 374.58 622.9 373.69 623.38 369.78 623.4 370.01 623.9 372.52 624.4 368.46 624.45 368.2 624.9 371.77 625.4 367.05 625.68 361.78 625.9 365.35 626.4 369.63 626.75 366.6 626.9 367.88 627.4 372.47 627.9 372.89 628.4 373.31 628.9 374.4 629.4 375.56 629.9 375.76 630.4 376.04 630.9 376.11 631.4 376.34 631.9 375.91 632.4 376.45 632.9 376.39 633.4 376.24 633.9 376.16 634.4 376.32 634.9 376.48 635.4 376.27 635.9 376.36 636.4 376.3 636.9 375.87 637.4 376.54 637.9 376.14 638.4 376.01 638.9 376.01 639.4 375.36 639.9 371.55 640.09 370.42 640.4 373.01 640.9 372.68 641.31 367.78 641.4 368.41 641.9 374.08 642.4 373.22 642.84 368.52 642.9 368.59 643.4 374.02 643.9 374.61 644.38 372.1 644.4 371.57 644.9 374.23 645.4 372.87 645.6 372.28 645.9 373.5 646.4 375.48 646.9 375.88 647.4 376.03 647.9 376.23 648.4 376.24 648.9 376.46 649.4 376.32 649.9 376.28 650.4 375.99 650.9 376.44 651.4 375.84 651.9 376.03 652.4 376.29 652.9 376.3 653.4 376.15 653.9 376.12 654.4 376.06 654.9 376.51 655.4 376.26 655.9 376.1 656.4 376.02 656.9 376.1 657.4 376.2 657.9 376.12 658.4 376.28 658.9 375.85 659.4 376 659.9 376.08 660.4 376.25 660.9 376.14 661.4 376.04 661.9 376.06 662.4 375.71 662.9 375.53 663.4 375.55 663.9 375.55 664.4 374.12 664.9 369.9 665.4 347.9 665.53 343.29 665.9 358.76 666.4 366.13 666.45 366.18 666.9 366.68 667.4 359.64 667.52 359 667.9 367.56 668.4 373.73 668.9 375.02 669.4 375.69 669.9 375.7 670.4 376.12 670.9 375.9 671.4 375.88 671.9 376.18 672.4 376.21 672.9 375.93 673.4 376.3 673.9 376.34 674.4 376.17 674.9 376.07 675.4 376.01 675.9 376.27 676.4 376.09 676.9 376.35 677.4 376.4 677.9 375.74 678.4 376.33 678.9 376.47 679.4 376.13 679.9 376.33 680.4 376.06 680.9 376.66 681.4 376.4 681.9 376 682.4 376.14 682.9 376.37 683.4 375.92 683.9 376 684.4 376.26 684.9 375.99" fill="none" stroke="#0a0a0a" stroke-width="1" stroke-linejoin="miter" stroke-miterlimit="3"/>
<path d="M486.4 424.89 486.9 424.94 487.4 425.13 487.9 424.63 488.4 425.29 488.9 424.99 489.4 424.83 489.9 424.87 490.4 424.88 490.9 425.18 491.4 424.65 491.9 425.13 492.4 425 492.9 424.99 493.4 425 493.9 425.09 494.4 424.71 494.9 424.98 495.4 424.81 495.9 425.29 496.4 424.88 496.9 425.03 497.4 424.92 497.9 424.96 498.4 424.91 498.9 425.01 499.4 424.98 499.9 424.97 500.4 424.95 500.9 424.98 501.4 425.06 501.9 424.91 502.4 425.15 502.9 424.61 503.4 424.84 503.9 424.71 504.4 425.02 504.9 425.23 505.4 425.27 505.9 425.14 506.4 425.11 506.9 425.07 507.4 425.06 507.9 424.88 508.4 425.43 508.9 424.69 509.4 425.06 509.9 424.97 510.4 425.33 510.9 424.95 511.4 425.26 511.9 424.91 512.4 424.95 512.9 424.97 513.4 425.03 513.9 425.05 514.4 425.06 514.9 424.83 515.4 424.98 515.9 424.95 516.4 424.56 516.9 424.98 517.4 425.17 517.9 425.41 518.4 425.45 518.9 424.98 519.4 424.84 519.9 425.19 520.4 425.21 520.9 425.03 521.4 424.97 521.9 424.83 522.4 425.02 522.9 425.12 523.4 424.87 523.9 425.17 524.4 425.27 524.9 425.2 525.4 425.06 525.9 425.08 526.4 425 526.9 424.99 527.4 424.56 527.9 424.92 528.4 425.4 528.9 425.26 529.4 424.97 529.9 425.15 530.4 424.6 530.9 425.08 531.4 425.07 531.9 424.98 532.4 425.05 532.9 424.9 533.4 425.05 533.9 424.94 534.4 425.11 534.9 425.49 535.4 424.92 535.9 424.7 536.4 425.18 536.9 425.1 537.4 424.85 537.9 425.1 538.4 424.98 538.9 425.04 539.4 424.89 539.9 425.02 540.4 424.63 540.9 424.99 541.4 425.05 541.9 425.27 542.4 424.98 542.9 425.17 543.4 424.88 543.9 424.9 544.4 424.51 544.9 425.15 545.4 424.98 545.9 424.81 546.4 425.37 546.9 424.88 547.4 424.66 547.9 424.99 548.4 425 548.9 424.77 549.4 424.95 549.9 424.95 550.4 424.84 550.9 425.14 551.4 424.65 551.9 425.06 552.4 425 552.9 425.07 553.4 425.48 553.9 425.3 554.4 425.07 554.9 425 555.4 424.79 555.9 424.51 556.4 424.87 556.9 425.02 557.4 425.12 557.9 424.74 558.4 425.12 558.9 425.01 559.4 424.75 559.9 425.02 560.4 425.03 560.9 424.97 561.4 425.3 561.9 425.02 562.4 424.97 562.9 424.93 563.4 425.07 563.9 425.4 564.4 425.15 564.9 424.86 565.4 425.14 565.9 425.16 566.4 424.9 566.9 424.9 567.4 424.97 567.9 424.89 568.4 424.85 568.9 424.91 569.4 424.93 569.9 424.66 570.4 425.2 570.9 424.58 571.4 424.95 571.9 425.13 572.4 424.87 572.9 424.81 573.4 425.22 573.9 424.96 574.4 424.84 574.9 424.84 575.4 424.99 575.9 425.19 576.4 425.01 576.9 424.59 577.4 425.17 577.9 424.43 578.4 425 578.9 425.01 579.4 425.1 579.9 424.97 580.4 424.96 580.9 425.18 581.4 424.62 581.9 424.77 582.4 424.92 582.9 425.23 583.4 425.06 583.9 425.03 584.4 424.84 584.9 425.01 585.4 425.2 585.9 425.01 586.4 425 586.9 424.93 587.4 424.64 587.9 424.21 588.4 420.72 588.43 420.17 588.9 423.65 589.4 424.98 589.9 424.77 590.4 425.03 590.9 424.8 591.4 424.75 591.9 424.73 592.4 422.57 592.57 421.76 592.9 423.56 593.4 424.46 593.9 422.7 594.1 421.76 594.4 423.22 594.9 424.78 595.4 424.93 595.9 424.72 596.4 424.85 596.9 424.87 597.4 425.02 597.9 424.79 598.4 423.27 598.7 421.15 598.9 422.54 599.4 424.58 599.9 424.95 600.4 425.07 600.9 425.07 601.4 425.18 601.9 424.76 602.4 424.47 602.9 422.89 603.4 424.16 603.9 424.82 604.4 424.62 604.9 424.41 605.4 423.42 605.9 424.44 606.4 424.8 606.9 424.91 607.4 424.72 607.9 424.98 608.4 424.93 608.9 424.88 609.4 425.16 609.9 424.81 610.4 424.59 610.9 423.78 611.4 420.36 611.42 420.35 611.9 423.79 612.4 423.96 612.9 420.91 612.96 420.82 613.4 422.9 613.9 420.47 614.03 419.57 614.4 422.56 614.9 424.42 615.4 424.96 615.9 424.76 616.4 424.75 616.9 425 617.4 425.04 617.9 424.88 618.4 424.49 618.9 423.24 619.4 416.67 619.55 415.25 619.9 420.3 620.4 422.37 620.9 415.78 621.08 413.56 621.4 418.73 621.9 422.06 622.4 416.92 622.46 416.67 622.9 422.04 623.4 424.21 623.9 423.41 624.4 421.52 624.45 421.34 624.9 422.98 625.4 424.36 625.9 424.78 626.4 424.72 626.9 424.86 627.4 424.1 627.9 421.22 628.28 416.44 628.4 416.98 628.9 421.57 629.4 415.72 629.51 414.35 629.9 418.94 630.4 420.61 630.9 419.35 631.35 413.83 631.4 413.75 631.9 422.43 632.4 424.34 632.9 424.64 633.4 425.14 633.9 424.89 634.4 424.97 634.9 424.79 635.4 424.93 635.9 424.95 636.4 425 636.9 424.64 637.4 424.89 637.9 424.95 638.4 425.37 638.9 424.71 639.4 424.97 639.9 424.93 640.4 424.81 640.9 424.9 641.4 424.63 641.9 424.7 642.4 423.59 642.84 421.05 642.9 421.05 643.4 423.76 643.9 423.27 644.38 420.01 644.4 420.04 644.9 423.45 645.4 423.98 645.9 421.82 645.91 421.68 646.4 424.02 646.9 424.53 647.4 425.17 647.9 424.67 648.4 425.03 648.9 425.06 649.4 424.76 649.9 424.38 650.4 421.68 650.82 414.06 650.9 414.37 651.4 423.31 651.9 424.38 652.4 424.9 652.9 425.2 653.4 425 653.9 425 654.4 424.83 654.9 424.77 655.4 425.26 655.9 425.01 656.4 423.91 656.9 417.61 657.1 413.51 657.4 419.68 657.9 423.83 658.4 424.76 658.9 424.7 659.4 424.83 659.9 424.93 660.4 425.04 660.9 424.78 661.4 424.83 661.9 424.98 662.4 424.99 662.9 425.27 663.4 424.86 663.9 424.82 664.4 424.78 664.9 423.2 665.4 417.32 665.53 416.41 665.9 421.16 666.4 423.9 666.9 422.05 667.06 421.55 667.4 423.18 667.9 424.9 668.4 424.98 668.9 424.91 669.4 424.98 669.9 424.92 670.4 425.08 670.9 425.05 671.4 424.86 671.9 424.96 672.4 424.67 672.9 424.81 673.4 424.47 673.9 423.91 674.4 420.97 674.9 407.81 675.03 404.78 675.4 414.1 675.9 419.05 675.95 418.99 676.4 418.67 676.87 414.11 676.9 414.04 677.4 421.44 677.9 423.58 678.4 423.62 678.9 422.35 679.4 424.07 679.9 424.38 680.4 424.96 680.9 424.92 681.4 424.88 681.9 424.67 682.4 425.2 682.9 425.29 683.4 424.99 683.9 425.13 684.4 425.1 684.9 425.35" fill="none" stroke="#0a0a0a" stroke-width="1" stroke-linejoin="miter" stroke-miterlimit="3"/>
<path d="M486.4 474.43 486.9 474.31 487.4 474.14 487.9 474.33 488.4 474.42 488.9 474.51 489.4 474.1 489.9 474.26 490.4 474.34 490.9 474.4 491.4 474.67 491.9 474.21 492.4 474.39 492.9 474.23 493.4 473.96 493.9 474.29 494.4 474.25 494.9 474.05 495.4 474.26 495.9 474.2 496.4 474.43 496.9 474.38 497.4 474.51 497.9 474.04 498.4 473.99 498.9 474.3 499.4 474.24 499.9 474.28 500.4 473.73 500.9 474.03 501.4 474.23 501.9 474.08 502.4 473.96 502.9 474.38 503.4 474.09 503.9 474.09 504.4 474.19 504.9 474.06 505.4 473.98 505.9 474.19 506.4 474.26 506.9 474.03 507.4 474.17 507.9 474.12 508.4 473.84 508.9 474.12 509.4 474.2 509.9 474.43 510.4 474.13 510.9 474.13 511.4 474.09 511.9 474.09 512.4 474.06 512.9 474.15 513.4 474.17 513.9 474.09 514.4 474.31 514.9 474.36 515.4 474.37 515.9 474.17 516.4 474.51 516.9 474.28 517.4 474.22 517.9 474.14 518.4 474.37 518.9 474.18 519.4 474.18 519.9 474.29 520.4 474.18 520.9 474.22 521.4 474.39 521.9 474.25 522.4 474.35 522.9 473.85 523.4 474.23 523.9 474.3 524.4 474.45 524.9 474.19 525.4 474.12 525.9 474.18 526.4 474.43 526.9 474.37 527.4 474.38 527.9 474.16 528.4 474.34 528.9 474.21 529.4 473.87 529.9 474.52 530.4 474.24 530.9 474.2 531.4 474.46 531.9 474 532.4 474.24 532.9 474.12 533.4 474.09 533.9 473.94 534.4 474.31 534.9 474.3 535.4 474.42 535.9 474.41 536.4 473.87 536.9 474.27 537.4 474.5 537.9 474.07 538.4 473.88 538.9 474.36 539.4 474.2 539.9 474.44 540.4 474.55 540.9 474.23 541.4 474.4 541.9 474.4 542.4 474.19 542.9 474.12 543.4 474.23 543.9 473.96 544.4 474.31 544.9 474.25 545.4 474.03 545.9 473.79 546.4 473.83 546.9 474.02 547.4 474.17 547.9 474.43 548.4 473.93 548.9 474.21 549.4 473.77 549.9 474.18 550.4 474.54 550.9 473.99 551.4 474.16 551.9 474.29 552.4 474.16 552.9 474.19 553.4 474.14 553.9 474.51 554.4 474.19 554.9 474.11 555.4 474.42 555.9 473.96 556.4 474.22 556.9 474.56 557.4 473.9 557.9 474.26 558.4 474.18 558.9 474.23 559.4 473.84 559.9 474.19 560.4 474.32 560.9 474.31 561.4 474.09 561.9 474.08 562.4 474.31 562.9 474.02 563.4 474.31 563.9 474.16 564.4 474.09 564.9 474.14 565.4 474.14 565.9 474.14 566.4 474.28 566.9 474.15 567.4 474.13 567.9 474.41 568.4 474.45 568.9 474.14 569.4 474.2 569.9 474.16 570.4 474.06 570.9 474.12 571.4 474.29 571.9 474.09 572.4 474.32 572.9 473.88 573.4 474 573.9 474.19 574.4 474.31 574.9 474.1 575.4 474.22 575.9 474.32 576.4 474.1 576.9 474.17 577.4 474.03 577.9 474.22 578.4 473.84 578.9 473.88 579.4 474.47 579.9 474.55 580.4 474.36 580.9 473.91 581.4 474.06 581.9 474.16 582.4 474.13 582.9 474.4 583.4 474.14 583.9 474.35 584.4 474.12 584.9 474.21 585.4 474.23 585.9 474.19 586.4 473.92 586.9 473.48 587.4 473.48 587.9 469.63 588.4 456.37 588.43 455.88 588.9 468.51 589.4 473.11 589.9 473.7 590.4 473.63 590.9 473.58 591.4 473.84 591.9 473.41 592.4 471.06 592.9 460.55 593.03 458.56 593.4 464.73 593.8 466.76 593.9 466.58 594.4 458.98 594.56 456.92 594.9 465.55 595.4 472.15 595.9 473.28 596.4 473.76 596.9 473.88 597.4 473.41 597.9 472.14 598.4 464.26 598.7 456.87 598.9 461.24 599.4 471.73 599.9 473.09 600.4 474.28 600.9 473.79 601.4 474.08 601.9 473.93 602.4 472.62 602.9 468.04 602.99 468.29 603.4 471.14 603.9 469.65 604.22 466.39 604.4 467.28 604.9 470.76 605.4 470 605.9 466.14 606.4 471.21 606.9 473.37 607.4 473.72 607.9 474.14 608.4 473.76 608.9 474.24 609.4 473.83 609.9 473.83 610.4 474.33 610.9 474.14 611.4 474.29 611.9 474.5 612.4 474.08 612.9 474.18 613.4 473.94 613.9 473.9 614.4 474.49 614.9 474.24 615.4 474.11 615.9 474.02 616.4 474.14 616.9 474.3 617.4 474.19 617.9 474.01 618.4 474.33 618.9 474.29 619.4 474.17 619.9 473.84 620.4 473 620.9 472.39 621.4 471.48 621.9 471.99 622.4 472.63 622.9 471.9 623.38 468 623.4 468 623.9 470.9 624.4 466.54 624.45 466.16 624.9 469.88 625.4 465.34 625.68 459.75 625.9 463.31 626.4 467.47 626.75 464.69 626.9 465.78 627.4 470.47 627.9 471.04 628.4 471.3 628.9 472.6 629.4 473.5 629.9 473.7 630.4 473.96 630.9 474.19 631.4 474.03 631.9 473.93 632.4 473.73 632.9 474.18 633.4 474.26 633.9 474.03 634.4 473.88 634.9 474.28 635.4 474.07 635.9 474.22 636.4 474.02 636.9 474.3 637.4 474.24 637.9 474.19 638.4 474.12 638.9 474.16 639.4 473.34 639.9 469.9 640.09 468.05 640.4 470.45 640.9 470.72 641.31 465.94 641.4 466.28 641.9 472.08 642.4 471.36 642.84 466.31 642.9 466.42 643.4 472.06 643.9 472.25 644.38 469.8 644.4 469.84 644.9 472.38 645.4 470.81 645.6 470.17 645.9 471.26 646.4 473.36 646.9 474 647.4 474.09 647.9 474.31 648.4 474.06 648.9 474.22 649.4 474.22 649.9 474.25 650.4 474.46 650.9 474.3 651.4 473.93 651.9 474.35 652.4 474.36 652.9 474.25 653.4 474.37 653.9 474.38 654.4 474.41 654.9 474.37 655.4 474.2 655.9 474.61 656.4 474.45 656.9 474.44 657.4 474.19 657.9 474.36 658.4 474.12 658.9 474.33 659.4 473.99 659.9 474.48 660.4 473.83 660.9 474.37 661.4 474.18 661.9 474.27 662.4 474.08 662.9 473.67 663.4 473.6 663.9 473.44 664.4 472.17 664.9 467.51 665.4 445.8 665.53 441.72 665.9 456.38 666.4 463.81 666.45 464.39 666.9 464.94 667.4 457.56 667.52 456.31 667.9 465.51 668.4 471.81 668.9 473.54 669.4 473.79 669.9 474.18 670.4 474 670.9 474.18 671.4 473.97 671.9 474.14 672.4 474.15 672.9 474.11 673.4 474.01 673.9 474.24 674.4 474.28 674.9 474.16 675.4 473.63 675.9 474.29 676.4 474.34 676.9 474.13 677.4 474.47 677.9 474.1 678.4 474.4 678.9 474.26 679.4 474.25 679.9 474.36 680.4 474.12 680.9 474.2 681.4 474.03 681.9 474.1 682.4 474.28 682.9 474.07 683.4 474.09 683.9 474.18 684.4 474.16 684.9 474" fill="none" stroke="#0a0a0a" stroke-width="1" stroke-linejoin="miter" stroke-miterlimit="3"/>
</svg>
</body></html>
